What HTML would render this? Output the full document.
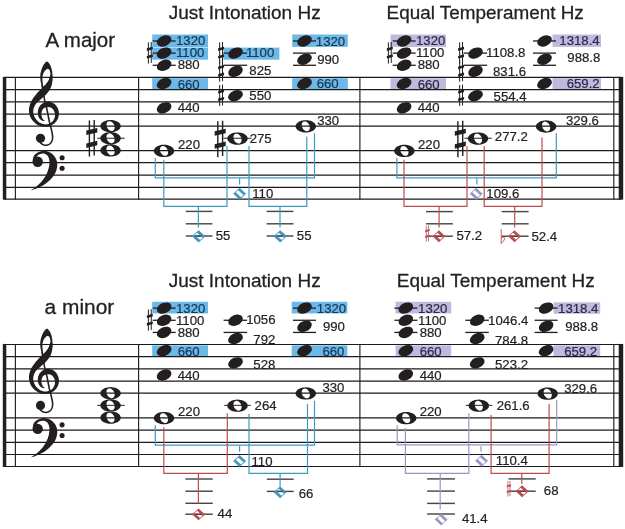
<!DOCTYPE html>
<html><head><meta charset="utf-8"><title>Just Intonation vs Equal Temperament</title>
<style>html,body{margin:0;padding:0;background:#fff;}svg{display:block;}text{font-family:"Liberation Sans",sans-serif;}</style></head>
<body>
<svg width="625" height="529" viewBox="0 0 625 529" font-family="'Liberation Sans', sans-serif" fill="#231f20" style="filter:blur(0.32px)">
<rect width="625" height="529" fill="#fff"/>
<rect x="152.2" y="34.5" width="55.8" height="12.85" fill="#6bb9e8"/>
<rect x="152.2" y="47.75" width="55.8" height="11.95" fill="#6bb9e8"/>
<rect x="152.2" y="78.2" width="55.8" height="11.5" fill="#6bb9e8"/>
<rect x="223.5" y="47.6" width="55.9" height="12.1" fill="#6bb9e8"/>
<rect x="292.2" y="34.5" width="55.6" height="12.4" fill="#6bb9e8"/>
<rect x="292.2" y="78.2" width="55.6" height="11.5" fill="#6bb9e8"/>
<rect x="390.5" y="34.5" width="55.5" height="12.4" fill="#bdb9df"/>
<rect x="390.5" y="78.2" width="55.5" height="11.5" fill="#bdb9df"/>
<rect x="552.5" y="34.5" width="48.5" height="12.4" fill="#bdb9df"/>
<rect x="552.5" y="78.2" width="48.5" height="11.5" fill="#bdb9df"/>
<path d="M4.5 77.46H621" stroke="#1d191a" stroke-width="1.2" fill="none"/>
<path d="M4.5 89.68H621" stroke="#1d191a" stroke-width="1.2" fill="none"/>
<path d="M4.5 101.8H621" stroke="#1d191a" stroke-width="1.2" fill="none"/>
<path d="M4.5 114.05H621" stroke="#1d191a" stroke-width="1.2" fill="none"/>
<path d="M4.5 126.2H621" stroke="#1d191a" stroke-width="1.2" fill="none"/>
<path d="M4.5 150.55H621" stroke="#1d191a" stroke-width="1.2" fill="none"/>
<path d="M4.5 162.7H621" stroke="#1d191a" stroke-width="1.2" fill="none"/>
<path d="M4.5 175.05H621" stroke="#1d191a" stroke-width="1.2" fill="none"/>
<path d="M4.5 187.3H621" stroke="#1d191a" stroke-width="1.2" fill="none"/>
<path d="M4.5 199.1H621" stroke="#1d191a" stroke-width="1.2" fill="none"/>
<rect x="2.8" y="76.91" width="3.5" height="122.74" fill="#231f20"/>
<path d="M15.4 76.96V199.6" stroke="#231f20" stroke-width="1.15" fill="none"/>
<path d="M138.6 76.96V199.6" stroke="#231f20" stroke-width="1.15" fill="none"/>
<path d="M359.9 76.96V199.6" stroke="#231f20" stroke-width="1.15" fill="none"/>
<path d="M613.8 76.96V199.6" stroke="#231f20" stroke-width="1.15" fill="none"/>
<rect x="618.7" y="76.91" width="4.5" height="122.74" fill="#231f20"/>
<path d="M44.76 120.76 L44.61 120.65 L44.41 120.5 L44.19 120.33 L43.94 120.14 L43.69 119.93 L43.46 119.71 L43.26 119.49 L43.08 119.26 L42.89 119.01 L42.69 118.74 L42.5 118.47 L42.33 118.2 L42.19 117.93 L42.07 117.65 L41.97 117.36 L41.87 117.02 L41.76 116.59 L41.64 116.11 L41.53 115.61 L41.44 115.1 L41.38 114.59 L41.35 114.09 L41.37 113.62 L41.44 113.15 L41.56 112.58 L41.71 111.94 L41.89 111.29 L42.1 110.65 L42.35 110.04 L42.63 109.51 L42.93 109.09 L43.24 108.76 L43.65 108.45 L44.19 108.11 L44.79 107.78 L45.44 107.5 L46.08 107.28 L46.7 107.12 L47.23 107.02 L47.67 106.99 L48.11 107.01 L48.67 107.06 L49.28 107.17 L49.93 107.34 L50.56 107.55 L51.17 107.81 L51.7 108.1 L52.13 108.39 L52.53 108.76 L52.95 109.24 L53.38 109.83 L53.78 110.5 L54.14 111.21 L54.45 111.93 L54.69 112.63 L54.87 113.28 L54.98 113.9 L55.03 114.58 L55.02 115.3 L54.95 116.04 L54.82 116.78 L54.65 117.51 L54.44 118.21 L54.19 118.85 L53.89 119.46 L53.53 120.06 L53.11 120.66 L52.64 121.23 L52.12 121.78 L51.57 122.27 L51 122.72 L50.41 123.1 L49.78 123.43 L49.1 123.72 L48.37 123.96 L47.62 124.15 L46.86 124.29 L46.09 124.37 L45.33 124.39 L44.59 124.35 L43.85 124.25 L43.08 124.08 L42.29 123.85 L41.51 123.57 L40.74 123.23 L40 122.84 L39.3 122.42 L38.65 121.96 L38.03 121.45 L37.41 120.87 L36.82 120.24 L36.25 119.56 L35.73 118.86 L35.25 118.14 L34.83 117.42 L34.48 116.71 L34.17 115.99 L33.9 115.24 L33.66 114.47 L33.47 113.68 L33.33 112.88 L33.24 112.09 L33.22 111.31 L33.25 110.56 L33.34 109.81 L33.5 109.04 L33.71 108.25 L33.97 107.45 L34.29 106.66 L34.65 105.89 L35.05 105.14 L35.48 104.44 L35.95 103.82 L36.5 103.21 L37.12 102.59 L37.8 101.97 L38.53 101.33 L39.29 100.67 L40.06 99.99 L40.79 99.31 L41.47 98.68 L42.15 98.08 L42.86 97.47 L43.58 96.85 L44.3 96.21 L45.02 95.54 L45.73 94.84 L46.4 94.13 L46.99 93.45 L47.55 92.78 L48.09 92.09 L48.62 91.39 L49.12 90.66 L49.61 89.9 L50.07 89.11 L50.49 88.31 L50.85 87.5 L51.16 86.69 L51.43 85.87 L51.67 85.05 L51.87 84.22 L52.04 83.39 L52.19 82.57 L52.32 81.73 L52.43 80.84 L52.49 79.92 L52.51 79 L52.5 78.11 L52.49 77.29 L52.47 76.56 L52.45 75.97 L52.44 75.53 L50.16 75.27 L50.05 75.73 L49.93 76.34 L49.79 77.05 L49.62 77.81 L49.43 78.6 L49.2 79.37 L48.95 80.07 L48.68 80.67 L48.35 81.23 L47.99 81.78 L47.58 82.33 L47.16 82.85 L46.71 83.37 L46.25 83.88 L45.78 84.39 L45.31 84.89 L44.85 85.37 L44.37 85.84 L43.87 86.32 L43.33 86.81 L42.78 87.33 L42.2 87.88 L41.6 88.47 L41 89.07 L40.43 89.66 L39.83 90.27 L39.2 90.91 L38.54 91.6 L37.86 92.32 L37.16 93.09 L36.47 93.88 L35.81 94.69 L35.2 95.47 L34.58 96.26 L33.93 97.11 L33.28 97.99 L32.64 98.93 L32.02 99.9 L31.43 100.92 L30.92 101.96 L30.48 102.99 L30.1 104.02 L29.77 105.07 L29.48 106.13 L29.25 107.21 L29.08 108.29 L28.98 109.37 L28.95 110.44 L29 111.5 L29.12 112.56 L29.3 113.6 L29.54 114.63 L29.85 115.64 L30.21 116.63 L30.64 117.58 L31.12 118.49 L31.68 119.37 L32.3 120.23 L32.99 121.05 L33.72 121.83 L34.49 122.56 L35.29 123.25 L36.12 123.88 L36.95 124.44 L37.82 124.94 L38.72 125.38 L39.65 125.77 L40.6 126.11 L41.56 126.39 L42.52 126.6 L43.47 126.76 L44.41 126.85 L45.34 126.86 L46.28 126.81 L47.22 126.7 L48.14 126.52 L49.05 126.29 L49.93 126.01 L50.78 125.68 L51.59 125.3 L52.38 124.86 L53.15 124.37 L53.89 123.82 L54.61 123.22 L55.29 122.56 L55.92 121.87 L56.5 121.13 L57.01 120.35 L57.46 119.53 L57.87 118.66 L58.22 117.74 L58.51 116.78 L58.74 115.8 L58.9 114.79 L58.96 113.76 L58.93 112.72 L58.8 111.69 L58.57 110.65 L58.26 109.6 L57.87 108.56 L57.4 107.55 L56.85 106.57 L56.21 105.65 L55.47 104.81 L54.63 104.06 L53.72 103.42 L52.74 102.86 L51.72 102.39 L50.66 102.02 L49.58 101.75 L48.47 101.61 L47.33 101.61 L46.2 101.78 L45.11 102.11 L44.09 102.56 L43.13 103.1 L42.23 103.7 L41.4 104.37 L40.64 105.07 L39.96 105.84 L39.36 106.69 L38.88 107.61 L38.51 108.53 L38.24 109.45 L38.03 110.36 L37.89 111.23 L37.8 112.06 L37.76 112.85 L37.78 113.67 L37.88 114.47 L38.05 115.22 L38.26 115.93 L38.51 116.57 L38.78 117.16 L39.05 117.69 L39.33 118.18 L39.64 118.65 L39.99 119.08 L40.36 119.45 L40.73 119.75 L41.1 120 L41.45 120.2 L41.79 120.37 L42.12 120.54 L42.48 120.7 L42.87 120.82 L43.25 120.9 L43.61 120.95 L43.94 120.98 L44.23 121 L44.46 121.02 L44.64 121.04Z" fill="#231f20" fill-rule="evenodd" transform="translate(0 0)"/>
<path d="M47.04 61.55 L47.43 61.67 L47.83 61.93 L48.23 62.29 L48.64 62.73 L49.04 63.24 L49.42 63.79 L49.78 64.35 L50.1 64.9 L50.39 65.47 L50.67 66.09 L50.92 66.75 L51.16 67.43 L51.37 68.13 L51.57 68.84 L51.74 69.53 L51.9 70.2 L52.03 70.85 L52.15 71.51 L52.24 72.16 L52.31 72.81 L52.36 73.45 L52.41 74.1 L52.43 74.75 L52.45 75.4 L52.46 76.05 L52.45 76.7 L52.42 77.36 L52.38 78.01 L52.33 78.66 L52.27 79.31 L52.19 79.96 L52.1 80.6 L52 81.24 L51.89 81.88 L51.77 82.52 L51.63 83.16 L51.48 83.79 L51.31 84.4 L51.12 85.01 L50.9 85.6 L50.66 86.21 L50.4 86.84 L50.12 87.48 L49.82 88.11 L49.5 88.68 L49.16 89.19 L48.79 89.61 L48.4 89.9 L47.96 90.06 L47.46 90.1 L46.92 90.06 L46.36 89.94 L45.81 89.77 L45.29 89.58 L44.81 89.38 L44.4 89.2 L44.06 89.03 L43.76 88.84 L43.51 88.63 L43.28 88.41 L43.07 88.16 L42.88 87.89 L42.69 87.61 L42.5 87.3 L42.31 86.97 L42.13 86.62 L41.97 86.25 L41.81 85.86 L41.66 85.45 L41.52 85.01 L41.38 84.57 L41.25 84.1 L41.12 83.61 L40.99 83.1 L40.87 82.57 L40.75 82.02 L40.64 81.46 L40.55 80.88 L40.47 80.3 L40.4 79.7 L40.35 79.09 L40.3 78.47 L40.26 77.83 L40.24 77.18 L40.23 76.51 L40.25 75.85 L40.28 75.17 L40.35 74.5 L40.44 73.81 L40.56 73.11 L40.71 72.39 L40.87 71.67 L41.06 70.96 L41.26 70.25 L41.47 69.56 L41.7 68.9 L41.95 68.25 L42.21 67.59 L42.5 66.94 L42.8 66.31 L43.11 65.7 L43.44 65.12 L43.77 64.59 L44.1 64.1 L44.44 63.63 L44.79 63.17 L45.16 62.72 L45.53 62.32 L45.9 61.98 L46.28 61.72 L46.66 61.57ZM47.7 68.8 L47.97 68.85 L48.24 68.95 L48.52 69.11 L48.79 69.31 L49.05 69.56 L49.3 69.86 L49.51 70.21 L49.7 70.6 L49.87 71.06 L50.02 71.59 L50.16 72.18 L50.28 72.81 L50.37 73.47 L50.42 74.13 L50.44 74.78 L50.4 75.4 L50.31 76 L50.17 76.61 L49.99 77.22 L49.77 77.83 L49.53 78.44 L49.27 79.04 L48.99 79.62 L48.7 80.2 L48.39 80.78 L48.05 81.36 L47.67 81.94 L47.29 82.51 L46.9 83.06 L46.51 83.58 L46.14 84.07 L45.8 84.5 L45.47 84.91 L45.15 85.33 L44.82 85.73 L44.51 86.09 L44.22 86.38 L43.95 86.6 L43.71 86.71 L43.5 86.7 L43.33 86.55 L43.21 86.27 L43.11 85.88 L43.03 85.41 L42.97 84.89 L42.92 84.33 L42.86 83.76 L42.8 83.2 L42.73 82.63 L42.65 82.01 L42.57 81.36 L42.49 80.68 L42.43 80 L42.39 79.31 L42.38 78.64 L42.4 78 L42.45 77.37 L42.53 76.73 L42.62 76.09 L42.74 75.46 L42.88 74.85 L43.04 74.26 L43.21 73.71 L43.4 73.2 L43.61 72.73 L43.85 72.29 L44.1 71.87 L44.38 71.49 L44.66 71.13 L44.94 70.8 L45.23 70.49 L45.5 70.2 L45.77 69.93 L46.05 69.66 L46.33 69.42 L46.61 69.2 L46.89 69.02 L47.16 68.89 L47.43 68.81Z" fill="#231f20" fill-rule="evenodd" transform="translate(0 0)"/>
<path d="M42 85.5 L42.07 85.82 L42.17 86.24 L42.28 86.75 L42.41 87.31 L42.54 87.9 L42.67 88.48 L42.79 89.02 L42.9 89.5 L43 89.9 L43.08 90.23 L43.17 90.52 L43.25 90.81 L43.33 91.13 L43.42 91.49 L43.5 91.94 L43.6 92.5 L43.69 93.17 L43.78 93.92 L43.86 94.74 L43.95 95.61 L44.05 96.54 L44.17 97.5 L44.32 98.49 L44.5 99.5 L44.72 100.52 L44.97 101.58 L45.26 102.66 L45.56 103.77 L45.87 104.93 L46.19 106.14 L46.5 107.39 L46.8 108.7 L47.1 110.11 L47.4 111.62 L47.7 113.21 L48.01 114.83 L48.31 116.45 L48.61 118.03 L48.91 119.52 L49.2 120.9 L49.49 122.17 L49.79 123.37 L50.08 124.51 L50.38 125.59 L50.66 126.64 L50.93 127.65 L51.17 128.63 L51.4 129.6 L51.61 130.55 L51.81 131.46 L52.01 132.35 L52.18 133.21 L52.33 134.03 L52.46 134.82 L52.55 135.58 L52.6 136.3 L52.61 136.99 L52.59 137.64 L52.54 138.25 L52.46 138.83 L52.36 139.38 L52.23 139.91 L52.07 140.42 L51.9 140.9 L51.71 141.36 L51.49 141.8 L51.25 142.21 L50.99 142.6 L50.7 142.96 L50.39 143.3 L50.06 143.61 L49.7 143.9 L49.31 144.17 L48.87 144.42 L48.41 144.64 L47.93 144.84 L47.43 145.01 L46.94 145.15 L46.46 145.25 L46 145.3 L45.55 145.3 L45.11 145.26 L44.66 145.17 L44.22 145.05 L43.79 144.9 L43.37 144.74 L42.98 144.57 L42.6 144.4 L42.24 144.21 L41.87 143.97 L41.52 143.71 L41.19 143.44 L40.88 143.18 L40.61 142.94 L40.38 142.75 L40.2 142.6" fill="none" stroke="#231f20" stroke-width="1.6" stroke-linecap="round" transform="translate(0 0)"/>
<circle cx="40.5" cy="138.3" r="4.6" fill="#231f20"/>
<path d="M32.7 160.54 L32.77 160.17 L32.85 159.66 L32.93 159.06 L33.04 158.4 L33.19 157.7 L33.38 157.02 L33.62 156.38 L33.92 155.81 L34.3 155.3 L34.73 154.81 L35.21 154.32 L35.74 153.86 L36.31 153.42 L36.91 153.02 L37.53 152.65 L38.18 152.32 L38.85 152.02 L39.57 151.73 L40.32 151.48 L41.1 151.26 L41.9 151.08 L42.71 150.96 L43.52 150.9 L44.32 150.9 L45.14 150.97 L45.99 151.1 L46.85 151.29 L47.72 151.53 L48.57 151.82 L49.41 152.16 L50.2 152.55 L50.94 152.98 L51.64 153.47 L52.33 154.03 L52.99 154.64 L53.61 155.29 L54.2 155.99 L54.75 156.71 L55.23 157.44 L55.66 158.18 L56.04 158.93 L56.36 159.71 L56.64 160.52 L56.86 161.35 L57.04 162.2 L57.17 163.05 L57.24 163.92 L57.27 164.79 L57.24 165.69 L57.15 166.61 L57.01 167.56 L56.82 168.52 L56.59 169.47 L56.31 170.4 L56 171.3 L55.66 172.17 L55.29 172.99 L54.87 173.78 L54.41 174.56 L53.91 175.31 L53.38 176.05 L52.81 176.77 L52.22 177.5 L51.6 178.22 L50.94 178.94 L50.24 179.67 L49.49 180.4 L48.72 181.11 L47.93 181.81 L47.14 182.47 L46.34 183.11 L45.55 183.7 L44.77 184.24 L44 184.74 L43.23 185.2 L42.44 185.64 L41.65 186.06 L40.83 186.47 L39.99 186.88 L39.12 187.29 L38.16 187.72 L37.1 188.18 L35.97 188.63 L34.85 189.07 L33.77 189.49 L32.8 189.86 L31.98 190.17 L31.37 190.41 L31.56 189.84 L32.08 189.47 L32.78 188.98 L33.62 188.39 L34.54 187.74 L35.51 187.04 L36.47 186.32 L37.37 185.61 L38.18 184.93 L38.91 184.26 L39.61 183.58 L40.29 182.9 L40.95 182.2 L41.59 181.48 L42.21 180.76 L42.8 180.01 L43.38 179.26 L43.93 178.47 L44.47 177.66 L44.98 176.84 L45.47 175.99 L45.94 175.15 L46.38 174.3 L46.78 173.46 L47.16 172.64 L47.49 171.82 L47.8 171 L48.07 170.18 L48.32 169.37 L48.54 168.56 L48.73 167.76 L48.9 166.98 L49.05 166.21 L49.17 165.46 L49.27 164.71 L49.35 163.98 L49.4 163.25 L49.43 162.54 L49.42 161.85 L49.39 161.19 L49.33 160.54 L49.24 159.91 L49.11 159.29 L48.96 158.69 L48.78 158.11 L48.58 157.55 L48.35 157.03 L48.09 156.54 L47.82 156.1 L47.51 155.7 L47.18 155.33 L46.81 154.99 L46.42 154.69 L46.02 154.43 L45.61 154.19 L45.2 153.99 L44.79 153.83 L44.39 153.71 L43.98 153.62 L43.57 153.58 L43.15 153.57 L42.72 153.59 L42.31 153.62 L41.89 153.67 L41.49 153.74 L41.08 153.81 L40.67 153.9 L40.26 154.02 L39.85 154.15 L39.45 154.3 L39.07 154.47 L38.71 154.66 L38.37 154.87 L38.04 155.12 L37.73 155.43 L37.42 155.77 L37.13 156.12 L36.87 156.47 L36.64 156.78 L36.44 157.04 L36.29 157.23Z" fill="#231f20" transform="translate(0 0)"/>
<circle cx="37.71" cy="161.77" r="5.2" fill="#231f20"/>
<circle cx="62.09" cy="157.71" r="2.55" fill="#231f20"/>
<circle cx="62.09" cy="168.29" r="2.55" fill="#231f20"/>
<path d="M97.2 138.28H124.7" stroke="#4a4646" stroke-width="1.2" fill="none"/>
<path d="M120.75 126.11 L120.62 127.07 L120.25 128.01 L119.64 128.9 L118.8 129.72 L117.76 130.46 L116.55 131.09 L115.18 131.59 L113.7 131.96 L112.15 132.18 L110.55 132.26 L108.95 132.18 L107.4 131.96 L105.92 131.59 L104.55 131.09 L103.34 130.46 L102.3 129.72 L101.46 128.9 L100.85 128.01 L100.48 127.07 L100.35 126.11 L100.48 125.15 L100.85 124.21 L101.46 123.32 L102.3 122.5 L103.34 121.76 L104.55 121.13 L105.92 120.63 L107.4 120.26 L108.95 120.04 L110.55 119.96 L112.15 120.04 L113.7 120.26 L115.18 120.63 L116.55 121.13 L117.76 121.76 L118.8 122.5 L119.64 123.32 L120.25 124.21 L120.62 125.15ZM113.82 124.37 L114.16 125.11 L114.41 125.88 L114.57 126.65 L114.63 127.4 L114.59 128.13 L114.45 128.8 L114.21 129.41 L113.88 129.94 L113.47 130.37 L112.99 130.7 L112.45 130.92 L111.86 131.01 L111.24 130.99 L110.6 130.85 L109.97 130.58 L109.34 130.21 L108.75 129.74 L108.2 129.18 L107.71 128.54 L107.28 127.85 L106.94 127.11 L106.69 126.34 L106.53 125.57 L106.47 124.82 L106.51 124.09 L106.65 123.42 L106.89 122.81 L107.22 122.28 L107.63 121.85 L108.11 121.52 L108.65 121.3 L109.24 121.21 L109.86 121.23 L110.5 121.37 L111.13 121.64 L111.76 122.01 L112.35 122.48 L112.9 123.04 L113.39 123.68Z" fill="#231f20" fill-rule="evenodd"/>
<path d="M120.75 138.28 L120.62 139.24 L120.25 140.18 L119.64 141.07 L118.8 141.89 L117.76 142.62 L116.55 143.25 L115.18 143.75 L113.7 144.12 L112.15 144.35 L110.55 144.43 L108.95 144.35 L107.4 144.12 L105.92 143.75 L104.55 143.25 L103.34 142.62 L102.3 141.89 L101.46 141.07 L100.85 140.18 L100.48 139.24 L100.35 138.28 L100.48 137.31 L100.85 136.37 L101.46 135.48 L102.3 134.66 L103.34 133.93 L104.55 133.3 L105.92 132.8 L107.4 132.43 L108.95 132.2 L110.55 132.12 L112.15 132.2 L113.7 132.43 L115.18 132.8 L116.55 133.3 L117.76 133.93 L118.8 134.66 L119.64 135.48 L120.25 136.37 L120.62 137.31ZM113.82 136.54 L114.16 137.28 L114.41 138.04 L114.57 138.81 L114.63 139.57 L114.59 140.29 L114.45 140.97 L114.21 141.58 L113.88 142.1 L113.47 142.54 L112.99 142.87 L112.45 143.08 L111.86 143.18 L111.24 143.15 L110.6 143.01 L109.97 142.75 L109.34 142.38 L108.75 141.91 L108.2 141.35 L107.71 140.71 L107.28 140.01 L106.94 139.27 L106.69 138.51 L106.53 137.74 L106.47 136.98 L106.51 136.26 L106.65 135.58 L106.89 134.97 L107.22 134.45 L107.63 134.01 L108.11 133.68 L108.65 133.47 L109.24 133.37 L109.86 133.4 L110.5 133.54 L111.13 133.8 L111.76 134.17 L112.35 134.64 L112.9 135.2 L113.39 135.84Z" fill="#231f20" fill-rule="evenodd"/>
<path d="M120.75 150.44 L120.62 151.4 L120.25 152.34 L119.64 153.23 L118.8 154.05 L117.76 154.79 L116.55 155.42 L115.18 155.92 L113.7 156.29 L112.15 156.51 L110.55 156.59 L108.95 156.51 L107.4 156.29 L105.92 155.92 L104.55 155.42 L103.34 154.79 L102.3 154.05 L101.46 153.23 L100.85 152.34 L100.48 151.4 L100.35 150.44 L100.48 149.48 L100.85 148.54 L101.46 147.65 L102.3 146.83 L103.34 146.09 L104.55 145.46 L105.92 144.96 L107.4 144.59 L108.95 144.37 L110.55 144.29 L112.15 144.37 L113.7 144.59 L115.18 144.96 L116.55 145.46 L117.76 146.09 L118.8 146.83 L119.64 147.65 L120.25 148.54 L120.62 149.48ZM113.82 148.7 L114.16 149.44 L114.41 150.21 L114.57 150.98 L114.63 151.73 L114.59 152.46 L114.45 153.13 L114.21 153.74 L113.88 154.27 L113.47 154.7 L112.99 155.03 L112.45 155.25 L111.86 155.34 L111.24 155.32 L110.6 155.18 L109.97 154.91 L109.34 154.54 L108.75 154.07 L108.2 153.51 L107.71 152.87 L107.28 152.18 L106.94 151.44 L106.69 150.67 L106.53 149.9 L106.47 149.15 L106.51 148.42 L106.65 147.75 L106.89 147.14 L107.22 146.61 L107.63 146.18 L108.11 145.85 L108.65 145.63 L109.24 145.54 L109.86 145.56 L110.5 145.7 L111.13 145.97 L111.76 146.34 L112.35 146.81 L112.9 147.37 L113.39 148.01Z" fill="#231f20" fill-rule="evenodd"/>
<path d="M89.4 120.57V156.47 M94.2 119.97V155.38" stroke="#231f20" stroke-width="1.4" fill="none"/>
<path d="M86.3 130.62 L97.3 127.93 L97.3 132.43 L86.3 135.12Z" fill="#231f20"/>
<path d="M86.3 143.52 L97.3 140.82 L97.3 145.32 L86.3 148.02Z" fill="#231f20"/>
<path d="M152.7 40.96H175.7" stroke="#231f20" stroke-width="1.3" fill="none"/>
<path d="M152.7 53.12H175.7" stroke="#231f20" stroke-width="1.3" fill="none"/>
<path d="M152.7 65.28H175.7" stroke="#231f20" stroke-width="1.3" fill="none"/>
<ellipse cx="164.1" cy="40.96" rx="7.7" ry="5.2" fill="#231f20" transform="rotate(-24 164.1 40.96)"/>
<ellipse cx="164.1" cy="53.12" rx="7.7" ry="5.2" fill="#231f20" transform="rotate(-24 164.1 53.12)"/>
<ellipse cx="164.1" cy="65.28" rx="7.7" ry="5.2" fill="#231f20" transform="rotate(-24 164.1 65.28)"/>
<ellipse cx="164.1" cy="83.53" rx="7.7" ry="5.2" fill="#231f20" transform="rotate(-24 164.1 83.53)"/>
<ellipse cx="164.1" cy="107.86" rx="7.7" ry="5.2" fill="#231f20" transform="rotate(-24 164.1 107.86)"/>
<path d="M148.38 42.35V63.54 M151.22 42V62.89" stroke="#231f20" stroke-width="1" fill="none"/>
<path d="M146.85 48.31 L152.75 46.72 L152.75 49.32 L146.85 50.91Z" fill="#231f20"/>
<path d="M146.85 55.92 L152.75 54.33 L152.75 56.93 L146.85 58.52Z" fill="#231f20"/>
<path d="M223.6 53.12H247.1" stroke="#231f20" stroke-width="1.3" fill="none"/>
<path d="M223.6 65.28H247.1" stroke="#231f20" stroke-width="1.3" fill="none"/>
<ellipse cx="235.5" cy="53.12" rx="7.7" ry="5.2" fill="#231f20" transform="rotate(-24 235.5 53.12)"/>
<ellipse cx="235.5" cy="71.37" rx="7.7" ry="5.2" fill="#231f20" transform="rotate(-24 235.5 71.37)"/>
<ellipse cx="235.5" cy="95.7" rx="7.7" ry="5.2" fill="#231f20" transform="rotate(-24 235.5 95.7)"/>
<path d="M219.68 42.35V63.54 M222.52 42V62.89" stroke="#231f20" stroke-width="1" fill="none"/>
<path d="M218.15 48.31 L224.05 46.72 L224.05 49.32 L218.15 50.91Z" fill="#231f20"/>
<path d="M218.15 55.92 L224.05 54.33 L224.05 56.93 L218.15 58.52Z" fill="#231f20"/>
<path d="M219.68 60.6V81.78 M222.52 60.25V81.13" stroke="#231f20" stroke-width="1" fill="none"/>
<path d="M218.15 66.56 L224.05 64.97 L224.05 67.56 L218.15 69.16Z" fill="#231f20"/>
<path d="M218.15 74.17 L224.05 72.58 L224.05 75.17 L218.15 76.77Z" fill="#231f20"/>
<path d="M219.68 84.93V106.11 M222.52 84.58V105.46" stroke="#231f20" stroke-width="1" fill="none"/>
<path d="M218.15 90.89 L224.05 89.3 L224.05 91.89 L218.15 93.49Z" fill="#231f20"/>
<path d="M218.15 98.5 L224.05 96.91 L224.05 99.5 L218.15 101.1Z" fill="#231f20"/>
<path d="M293 40.96H316" stroke="#231f20" stroke-width="1.3" fill="none"/>
<path d="M293 53.12H316" stroke="#231f20" stroke-width="1.3" fill="none"/>
<path d="M293 65.28H316" stroke="#231f20" stroke-width="1.3" fill="none"/>
<ellipse cx="304.5" cy="40.96" rx="7.7" ry="5.2" fill="#231f20" transform="rotate(-24 304.5 40.96)"/>
<ellipse cx="304.5" cy="59.2" rx="7.7" ry="5.2" fill="#231f20" transform="rotate(-24 304.5 59.2)"/>
<ellipse cx="304.5" cy="83.53" rx="7.7" ry="5.2" fill="#231f20" transform="rotate(-24 304.5 83.53)"/>
<path d="M392.7 40.96H415.7" stroke="#231f20" stroke-width="1.3" fill="none"/>
<path d="M392.7 53.12H415.7" stroke="#231f20" stroke-width="1.3" fill="none"/>
<path d="M392.7 65.28H415.7" stroke="#231f20" stroke-width="1.3" fill="none"/>
<ellipse cx="404.1" cy="40.96" rx="7.7" ry="5.2" fill="#231f20" transform="rotate(-24 404.1 40.96)"/>
<ellipse cx="404.1" cy="53.12" rx="7.7" ry="5.2" fill="#231f20" transform="rotate(-24 404.1 53.12)"/>
<ellipse cx="404.1" cy="65.28" rx="7.7" ry="5.2" fill="#231f20" transform="rotate(-24 404.1 65.28)"/>
<ellipse cx="404.1" cy="83.53" rx="7.7" ry="5.2" fill="#231f20" transform="rotate(-24 404.1 83.53)"/>
<ellipse cx="404.1" cy="107.86" rx="7.7" ry="5.2" fill="#231f20" transform="rotate(-24 404.1 107.86)"/>
<path d="M388.38 42.35V63.54 M391.22 42V62.89" stroke="#231f20" stroke-width="1" fill="none"/>
<path d="M386.85 48.31 L392.75 46.72 L392.75 49.32 L386.85 50.91Z" fill="#231f20"/>
<path d="M386.85 55.92 L392.75 54.33 L392.75 56.93 L386.85 58.52Z" fill="#231f20"/>
<path d="M463.6 53.12H487.1" stroke="#231f20" stroke-width="1.3" fill="none"/>
<path d="M463.6 65.28H487.1" stroke="#231f20" stroke-width="1.3" fill="none"/>
<ellipse cx="475.5" cy="53.12" rx="7.7" ry="5.2" fill="#231f20" transform="rotate(-24 475.5 53.12)"/>
<ellipse cx="475.5" cy="71.37" rx="7.7" ry="5.2" fill="#231f20" transform="rotate(-24 475.5 71.37)"/>
<ellipse cx="475.5" cy="95.7" rx="7.7" ry="5.2" fill="#231f20" transform="rotate(-24 475.5 95.7)"/>
<path d="M459.68 42.35V63.54 M462.52 42V62.89" stroke="#231f20" stroke-width="1" fill="none"/>
<path d="M458.15 48.31 L464.05 46.72 L464.05 49.32 L458.15 50.91Z" fill="#231f20"/>
<path d="M458.15 55.92 L464.05 54.33 L464.05 56.93 L458.15 58.52Z" fill="#231f20"/>
<path d="M459.68 60.6V81.78 M462.52 60.25V81.13" stroke="#231f20" stroke-width="1" fill="none"/>
<path d="M458.15 66.56 L464.05 64.97 L464.05 67.56 L458.15 69.16Z" fill="#231f20"/>
<path d="M458.15 74.17 L464.05 72.58 L464.05 75.17 L458.15 76.77Z" fill="#231f20"/>
<path d="M459.68 84.93V106.11 M462.52 84.58V105.46" stroke="#231f20" stroke-width="1" fill="none"/>
<path d="M458.15 90.89 L464.05 89.3 L464.05 91.89 L458.15 93.49Z" fill="#231f20"/>
<path d="M458.15 98.5 L464.05 96.91 L464.05 99.5 L458.15 101.1Z" fill="#231f20"/>
<path d="M533 40.96H556" stroke="#231f20" stroke-width="1.3" fill="none"/>
<path d="M533 53.12H556" stroke="#231f20" stroke-width="1.3" fill="none"/>
<path d="M533 65.28H556" stroke="#231f20" stroke-width="1.3" fill="none"/>
<ellipse cx="544.5" cy="40.96" rx="7.7" ry="5.2" fill="#231f20" transform="rotate(-24 544.5 40.96)"/>
<ellipse cx="544.5" cy="59.2" rx="7.7" ry="5.2" fill="#231f20" transform="rotate(-24 544.5 59.2)"/>
<ellipse cx="544.5" cy="83.53" rx="7.7" ry="5.2" fill="#231f20" transform="rotate(-24 544.5 83.53)"/>
<path d="M174.2 150.94 L174.07 151.9 L173.7 152.84 L173.09 153.73 L172.25 154.55 L171.21 155.29 L170 155.92 L168.63 156.42 L167.15 156.79 L165.6 157.01 L164 157.09 L162.4 157.01 L160.85 156.79 L159.37 156.42 L158 155.92 L156.79 155.29 L155.75 154.55 L154.91 153.73 L154.3 152.84 L153.93 151.9 L153.8 150.94 L153.93 149.98 L154.3 149.04 L154.91 148.15 L155.75 147.33 L156.79 146.59 L158 145.96 L159.37 145.46 L160.85 145.09 L162.4 144.87 L164 144.79 L165.6 144.87 L167.15 145.09 L168.63 145.46 L170 145.96 L171.21 146.59 L172.25 147.33 L173.09 148.15 L173.7 149.04 L174.07 149.98ZM167.27 149.2 L167.61 149.94 L167.86 150.71 L168.02 151.48 L168.08 152.23 L168.04 152.96 L167.9 153.63 L167.66 154.24 L167.33 154.77 L166.92 155.2 L166.44 155.53 L165.9 155.75 L165.31 155.84 L164.69 155.82 L164.05 155.68 L163.42 155.41 L162.79 155.04 L162.2 154.57 L161.65 154.01 L161.16 153.37 L160.73 152.68 L160.39 151.94 L160.14 151.17 L159.98 150.4 L159.92 149.65 L159.96 148.92 L160.1 148.25 L160.34 147.64 L160.67 147.11 L161.08 146.68 L161.56 146.35 L162.1 146.13 L162.69 146.04 L163.31 146.06 L163.95 146.2 L164.58 146.47 L165.21 146.84 L165.8 147.31 L166.35 147.87 L166.84 148.51Z" fill="#231f20" fill-rule="evenodd"/>
<path d="M223.4 138.28H251.6" stroke="#4a4646" stroke-width="1.2" fill="none"/>
<path d="M247.7 138.58 L247.57 139.54 L247.2 140.48 L246.59 141.37 L245.75 142.19 L244.71 142.92 L243.5 143.55 L242.13 144.05 L240.65 144.42 L239.1 144.65 L237.5 144.73 L235.9 144.65 L234.35 144.42 L232.87 144.05 L231.5 143.55 L230.29 142.92 L229.25 142.19 L228.41 141.37 L227.8 140.48 L227.43 139.54 L227.3 138.58 L227.43 137.61 L227.8 136.67 L228.41 135.78 L229.25 134.96 L230.29 134.23 L231.5 133.6 L232.87 133.1 L234.35 132.73 L235.9 132.5 L237.5 132.43 L239.1 132.5 L240.65 132.73 L242.13 133.1 L243.5 133.6 L244.71 134.23 L245.75 134.96 L246.59 135.78 L247.2 136.67 L247.57 137.61ZM240.77 136.84 L241.11 137.58 L241.36 138.34 L241.52 139.11 L241.58 139.87 L241.54 140.59 L241.4 141.27 L241.16 141.88 L240.83 142.4 L240.42 142.84 L239.94 143.17 L239.4 143.38 L238.81 143.48 L238.19 143.45 L237.55 143.31 L236.92 143.05 L236.29 142.68 L235.7 142.21 L235.15 141.65 L234.66 141.01 L234.23 140.31 L233.89 139.57 L233.64 138.81 L233.48 138.04 L233.42 137.28 L233.46 136.56 L233.6 135.88 L233.84 135.27 L234.17 134.75 L234.58 134.31 L235.06 133.98 L235.6 133.77 L236.19 133.67 L236.81 133.7 L237.45 133.84 L238.08 134.1 L238.71 134.47 L239.3 134.94 L239.85 135.5 L240.34 136.14Z" fill="#231f20" fill-rule="evenodd"/>
<path d="M217.8 121.28V157.18 M222.6 120.68V156.08" stroke="#231f20" stroke-width="1.4" fill="none"/>
<path d="M214.7 131.33 L225.7 128.63 L225.7 133.13 L214.7 135.83Z" fill="#231f20"/>
<path d="M214.7 144.22 L225.7 141.53 L225.7 146.03 L214.7 148.72Z" fill="#231f20"/>
<path d="M316 126.31 L315.87 127.27 L315.5 128.21 L314.89 129.1 L314.05 129.92 L313.01 130.66 L311.8 131.29 L310.43 131.79 L308.95 132.16 L307.4 132.38 L305.8 132.46 L304.2 132.38 L302.65 132.16 L301.17 131.79 L299.8 131.29 L298.59 130.66 L297.55 129.92 L296.71 129.1 L296.1 128.21 L295.73 127.27 L295.6 126.31 L295.73 125.35 L296.1 124.41 L296.71 123.52 L297.55 122.7 L298.59 121.96 L299.8 121.33 L301.17 120.83 L302.65 120.46 L304.2 120.24 L305.8 120.16 L307.4 120.24 L308.95 120.46 L310.43 120.83 L311.8 121.33 L313.01 121.96 L314.05 122.7 L314.89 123.52 L315.5 124.41 L315.87 125.35ZM309.07 124.57 L309.41 125.31 L309.66 126.08 L309.82 126.85 L309.88 127.6 L309.84 128.33 L309.7 129 L309.46 129.61 L309.13 130.14 L308.72 130.57 L308.24 130.9 L307.7 131.12 L307.11 131.21 L306.49 131.19 L305.85 131.05 L305.22 130.78 L304.59 130.41 L304 129.94 L303.45 129.38 L302.96 128.74 L302.53 128.05 L302.19 127.31 L301.94 126.54 L301.78 125.77 L301.72 125.02 L301.76 124.29 L301.9 123.62 L302.14 123.01 L302.47 122.48 L302.88 122.05 L303.36 121.72 L303.9 121.5 L304.49 121.41 L305.11 121.43 L305.75 121.57 L306.38 121.84 L307.01 122.21 L307.6 122.68 L308.15 123.24 L308.64 123.88Z" fill="#231f20" fill-rule="evenodd"/>
<path d="M414.6 150.94 L414.47 151.9 L414.1 152.84 L413.49 153.73 L412.65 154.55 L411.61 155.29 L410.4 155.92 L409.03 156.42 L407.55 156.79 L406 157.01 L404.4 157.09 L402.8 157.01 L401.25 156.79 L399.77 156.42 L398.4 155.92 L397.19 155.29 L396.15 154.55 L395.31 153.73 L394.7 152.84 L394.33 151.9 L394.2 150.94 L394.33 149.98 L394.7 149.04 L395.31 148.15 L396.15 147.33 L397.19 146.59 L398.4 145.96 L399.77 145.46 L401.25 145.09 L402.8 144.87 L404.4 144.79 L406 144.87 L407.55 145.09 L409.03 145.46 L410.4 145.96 L411.61 146.59 L412.65 147.33 L413.49 148.15 L414.1 149.04 L414.47 149.98ZM407.67 149.2 L408.01 149.94 L408.26 150.71 L408.42 151.48 L408.48 152.23 L408.44 152.96 L408.3 153.63 L408.06 154.24 L407.73 154.77 L407.32 155.2 L406.84 155.53 L406.3 155.75 L405.71 155.84 L405.09 155.82 L404.45 155.68 L403.82 155.41 L403.19 155.04 L402.6 154.57 L402.05 154.01 L401.56 153.37 L401.13 152.68 L400.79 151.94 L400.54 151.17 L400.38 150.4 L400.32 149.65 L400.36 148.92 L400.5 148.25 L400.74 147.64 L401.07 147.11 L401.48 146.68 L401.96 146.35 L402.5 146.13 L403.09 146.04 L403.71 146.06 L404.35 146.2 L404.98 146.47 L405.61 146.84 L406.2 147.31 L406.75 147.87 L407.24 148.51Z" fill="#231f20" fill-rule="evenodd"/>
<path d="M464.4 138.28H491.8" stroke="#4a4646" stroke-width="1.2" fill="none"/>
<path d="M488.2 138.58 L488.07 139.54 L487.7 140.48 L487.09 141.37 L486.25 142.19 L485.21 142.92 L484 143.55 L482.63 144.05 L481.15 144.42 L479.6 144.65 L478 144.73 L476.4 144.65 L474.85 144.42 L473.37 144.05 L472 143.55 L470.79 142.92 L469.75 142.19 L468.91 141.37 L468.3 140.48 L467.93 139.54 L467.8 138.58 L467.93 137.61 L468.3 136.67 L468.91 135.78 L469.75 134.96 L470.79 134.23 L472 133.6 L473.37 133.1 L474.85 132.73 L476.4 132.5 L478 132.43 L479.6 132.5 L481.15 132.73 L482.63 133.1 L484 133.6 L485.21 134.23 L486.25 134.96 L487.09 135.78 L487.7 136.67 L488.07 137.61ZM481.27 136.84 L481.61 137.58 L481.86 138.34 L482.02 139.11 L482.08 139.87 L482.04 140.59 L481.9 141.27 L481.66 141.88 L481.33 142.4 L480.92 142.84 L480.44 143.17 L479.9 143.38 L479.31 143.48 L478.69 143.45 L478.05 143.31 L477.42 143.05 L476.79 142.68 L476.2 142.21 L475.65 141.65 L475.16 141.01 L474.73 140.31 L474.39 139.57 L474.14 138.81 L473.98 138.04 L473.92 137.28 L473.96 136.56 L474.1 135.88 L474.34 135.27 L474.67 134.75 L475.08 134.31 L475.56 133.98 L476.1 133.77 L476.69 133.67 L477.31 133.7 L477.95 133.84 L478.58 134.1 L479.21 134.47 L479.8 134.94 L480.35 135.5 L480.84 136.14Z" fill="#231f20" fill-rule="evenodd"/>
<path d="M457.9 121.28V157.18 M462.7 120.68V156.08" stroke="#231f20" stroke-width="1.4" fill="none"/>
<path d="M454.8 131.33 L465.8 128.63 L465.8 133.13 L454.8 135.83Z" fill="#231f20"/>
<path d="M454.8 144.22 L465.8 141.53 L465.8 146.03 L454.8 148.72Z" fill="#231f20"/>
<path d="M556.3 126.51 L556.17 127.47 L555.8 128.41 L555.19 129.3 L554.35 130.12 L553.31 130.86 L552.1 131.49 L550.73 131.99 L549.25 132.36 L547.7 132.58 L546.1 132.66 L544.5 132.58 L542.95 132.36 L541.47 131.99 L540.1 131.49 L538.89 130.86 L537.85 130.12 L537.01 129.3 L536.4 128.41 L536.03 127.47 L535.9 126.51 L536.03 125.55 L536.4 124.61 L537.01 123.72 L537.85 122.9 L538.89 122.16 L540.1 121.53 L541.47 121.03 L542.95 120.66 L544.5 120.44 L546.1 120.36 L547.7 120.44 L549.25 120.66 L550.73 121.03 L552.1 121.53 L553.31 122.16 L554.35 122.9 L555.19 123.72 L555.8 124.61 L556.17 125.55ZM549.37 124.77 L549.71 125.51 L549.96 126.28 L550.12 127.05 L550.18 127.8 L550.14 128.53 L550 129.2 L549.76 129.81 L549.43 130.34 L549.02 130.77 L548.54 131.1 L548 131.32 L547.41 131.41 L546.79 131.39 L546.15 131.25 L545.52 130.98 L544.89 130.61 L544.3 130.14 L543.75 129.58 L543.26 128.94 L542.83 128.25 L542.49 127.51 L542.24 126.74 L542.08 125.97 L542.02 125.22 L542.06 124.49 L542.2 123.82 L542.44 123.21 L542.77 122.68 L543.18 122.25 L543.66 121.92 L544.2 121.7 L544.79 121.61 L545.41 121.63 L546.05 121.77 L546.68 122.04 L547.31 122.41 L547.9 122.88 L548.45 123.44 L548.94 124.08Z" fill="#231f20" fill-rule="evenodd"/>
<rect x="152.2" y="301.75" width="55.8" height="11.7" fill="#6bb9e8"/>
<rect x="152.2" y="345.35" width="55.8" height="11.5" fill="#6bb9e8"/>
<rect x="291.7" y="301.75" width="55.6" height="11.7" fill="#6bb9e8"/>
<rect x="291.7" y="345.35" width="55.6" height="11.5" fill="#6bb9e8"/>
<rect x="395.6" y="301.75" width="55.6" height="11.7" fill="#bdb9df"/>
<rect x="395.6" y="345.35" width="55.6" height="11.5" fill="#bdb9df"/>
<rect x="553.6" y="302.35" width="46.6" height="11.4" fill="#bdb9df"/>
<rect x="553.6" y="345.35" width="46.6" height="11.5" fill="#bdb9df"/>
<path d="M4.5 344.5H621" stroke="#1d191a" stroke-width="1.2" fill="none"/>
<path d="M4.5 356.7H621" stroke="#1d191a" stroke-width="1.2" fill="none"/>
<path d="M4.5 368.85H621" stroke="#1d191a" stroke-width="1.2" fill="none"/>
<path d="M4.5 381.1H621" stroke="#1d191a" stroke-width="1.2" fill="none"/>
<path d="M4.5 393.2H621" stroke="#1d191a" stroke-width="1.2" fill="none"/>
<path d="M4.5 417.85H621" stroke="#1d191a" stroke-width="1.2" fill="none"/>
<path d="M4.5 430.1H621" stroke="#1d191a" stroke-width="1.2" fill="none"/>
<path d="M4.5 442.3H621" stroke="#1d191a" stroke-width="1.2" fill="none"/>
<path d="M4.5 454.5H621" stroke="#1d191a" stroke-width="1.2" fill="none"/>
<path d="M4.5 466.5H621" stroke="#1d191a" stroke-width="1.2" fill="none"/>
<rect x="2.8" y="343.95" width="3.5" height="123.1" fill="#231f20"/>
<path d="M15.4 344V467" stroke="#231f20" stroke-width="1.15" fill="none"/>
<path d="M138.6 344V467" stroke="#231f20" stroke-width="1.15" fill="none"/>
<path d="M359.9 344V467" stroke="#231f20" stroke-width="1.15" fill="none"/>
<path d="M613.8 344V467" stroke="#231f20" stroke-width="1.15" fill="none"/>
<rect x="618.7" y="343.95" width="4.5" height="123.1" fill="#231f20"/>
<path d="M44.76 120.76 L44.61 120.65 L44.41 120.5 L44.19 120.33 L43.94 120.14 L43.69 119.93 L43.46 119.71 L43.26 119.49 L43.08 119.26 L42.89 119.01 L42.69 118.74 L42.5 118.47 L42.33 118.2 L42.19 117.93 L42.07 117.65 L41.97 117.36 L41.87 117.02 L41.76 116.59 L41.64 116.11 L41.53 115.61 L41.44 115.1 L41.38 114.59 L41.35 114.09 L41.37 113.62 L41.44 113.15 L41.56 112.58 L41.71 111.94 L41.89 111.29 L42.1 110.65 L42.35 110.04 L42.63 109.51 L42.93 109.09 L43.24 108.76 L43.65 108.45 L44.19 108.11 L44.79 107.78 L45.44 107.5 L46.08 107.28 L46.7 107.12 L47.23 107.02 L47.67 106.99 L48.11 107.01 L48.67 107.06 L49.28 107.17 L49.93 107.34 L50.56 107.55 L51.17 107.81 L51.7 108.1 L52.13 108.39 L52.53 108.76 L52.95 109.24 L53.38 109.83 L53.78 110.5 L54.14 111.21 L54.45 111.93 L54.69 112.63 L54.87 113.28 L54.98 113.9 L55.03 114.58 L55.02 115.3 L54.95 116.04 L54.82 116.78 L54.65 117.51 L54.44 118.21 L54.19 118.85 L53.89 119.46 L53.53 120.06 L53.11 120.66 L52.64 121.23 L52.12 121.78 L51.57 122.27 L51 122.72 L50.41 123.1 L49.78 123.43 L49.1 123.72 L48.37 123.96 L47.62 124.15 L46.86 124.29 L46.09 124.37 L45.33 124.39 L44.59 124.35 L43.85 124.25 L43.08 124.08 L42.29 123.85 L41.51 123.57 L40.74 123.23 L40 122.84 L39.3 122.42 L38.65 121.96 L38.03 121.45 L37.41 120.87 L36.82 120.24 L36.25 119.56 L35.73 118.86 L35.25 118.14 L34.83 117.42 L34.48 116.71 L34.17 115.99 L33.9 115.24 L33.66 114.47 L33.47 113.68 L33.33 112.88 L33.24 112.09 L33.22 111.31 L33.25 110.56 L33.34 109.81 L33.5 109.04 L33.71 108.25 L33.97 107.45 L34.29 106.66 L34.65 105.89 L35.05 105.14 L35.48 104.44 L35.95 103.82 L36.5 103.21 L37.12 102.59 L37.8 101.97 L38.53 101.33 L39.29 100.67 L40.06 99.99 L40.79 99.31 L41.47 98.68 L42.15 98.08 L42.86 97.47 L43.58 96.85 L44.3 96.21 L45.02 95.54 L45.73 94.84 L46.4 94.13 L46.99 93.45 L47.55 92.78 L48.09 92.09 L48.62 91.39 L49.12 90.66 L49.61 89.9 L50.07 89.11 L50.49 88.31 L50.85 87.5 L51.16 86.69 L51.43 85.87 L51.67 85.05 L51.87 84.22 L52.04 83.39 L52.19 82.57 L52.32 81.73 L52.43 80.84 L52.49 79.92 L52.51 79 L52.5 78.11 L52.49 77.29 L52.47 76.56 L52.45 75.97 L52.44 75.53 L50.16 75.27 L50.05 75.73 L49.93 76.34 L49.79 77.05 L49.62 77.81 L49.43 78.6 L49.2 79.37 L48.95 80.07 L48.68 80.67 L48.35 81.23 L47.99 81.78 L47.58 82.33 L47.16 82.85 L46.71 83.37 L46.25 83.88 L45.78 84.39 L45.31 84.89 L44.85 85.37 L44.37 85.84 L43.87 86.32 L43.33 86.81 L42.78 87.33 L42.2 87.88 L41.6 88.47 L41 89.07 L40.43 89.66 L39.83 90.27 L39.2 90.91 L38.54 91.6 L37.86 92.32 L37.16 93.09 L36.47 93.88 L35.81 94.69 L35.2 95.47 L34.58 96.26 L33.93 97.11 L33.28 97.99 L32.64 98.93 L32.02 99.9 L31.43 100.92 L30.92 101.96 L30.48 102.99 L30.1 104.02 L29.77 105.07 L29.48 106.13 L29.25 107.21 L29.08 108.29 L28.98 109.37 L28.95 110.44 L29 111.5 L29.12 112.56 L29.3 113.6 L29.54 114.63 L29.85 115.64 L30.21 116.63 L30.64 117.58 L31.12 118.49 L31.68 119.37 L32.3 120.23 L32.99 121.05 L33.72 121.83 L34.49 122.56 L35.29 123.25 L36.12 123.88 L36.95 124.44 L37.82 124.94 L38.72 125.38 L39.65 125.77 L40.6 126.11 L41.56 126.39 L42.52 126.6 L43.47 126.76 L44.41 126.85 L45.34 126.86 L46.28 126.81 L47.22 126.7 L48.14 126.52 L49.05 126.29 L49.93 126.01 L50.78 125.68 L51.59 125.3 L52.38 124.86 L53.15 124.37 L53.89 123.82 L54.61 123.22 L55.29 122.56 L55.92 121.87 L56.5 121.13 L57.01 120.35 L57.46 119.53 L57.87 118.66 L58.22 117.74 L58.51 116.78 L58.74 115.8 L58.9 114.79 L58.96 113.76 L58.93 112.72 L58.8 111.69 L58.57 110.65 L58.26 109.6 L57.87 108.56 L57.4 107.55 L56.85 106.57 L56.21 105.65 L55.47 104.81 L54.63 104.06 L53.72 103.42 L52.74 102.86 L51.72 102.39 L50.66 102.02 L49.58 101.75 L48.47 101.61 L47.33 101.61 L46.2 101.78 L45.11 102.11 L44.09 102.56 L43.13 103.1 L42.23 103.7 L41.4 104.37 L40.64 105.07 L39.96 105.84 L39.36 106.69 L38.88 107.61 L38.51 108.53 L38.24 109.45 L38.03 110.36 L37.89 111.23 L37.8 112.06 L37.76 112.85 L37.78 113.67 L37.88 114.47 L38.05 115.22 L38.26 115.93 L38.51 116.57 L38.78 117.16 L39.05 117.69 L39.33 118.18 L39.64 118.65 L39.99 119.08 L40.36 119.45 L40.73 119.75 L41.1 120 L41.45 120.2 L41.79 120.37 L42.12 120.54 L42.48 120.7 L42.87 120.82 L43.25 120.9 L43.61 120.95 L43.94 120.98 L44.23 121 L44.46 121.02 L44.64 121.04Z" fill="#231f20" fill-rule="evenodd" transform="translate(0 267.15)"/>
<path d="M47.04 61.55 L47.43 61.67 L47.83 61.93 L48.23 62.29 L48.64 62.73 L49.04 63.24 L49.42 63.79 L49.78 64.35 L50.1 64.9 L50.39 65.47 L50.67 66.09 L50.92 66.75 L51.16 67.43 L51.37 68.13 L51.57 68.84 L51.74 69.53 L51.9 70.2 L52.03 70.85 L52.15 71.51 L52.24 72.16 L52.31 72.81 L52.36 73.45 L52.41 74.1 L52.43 74.75 L52.45 75.4 L52.46 76.05 L52.45 76.7 L52.42 77.36 L52.38 78.01 L52.33 78.66 L52.27 79.31 L52.19 79.96 L52.1 80.6 L52 81.24 L51.89 81.88 L51.77 82.52 L51.63 83.16 L51.48 83.79 L51.31 84.4 L51.12 85.01 L50.9 85.6 L50.66 86.21 L50.4 86.84 L50.12 87.48 L49.82 88.11 L49.5 88.68 L49.16 89.19 L48.79 89.61 L48.4 89.9 L47.96 90.06 L47.46 90.1 L46.92 90.06 L46.36 89.94 L45.81 89.77 L45.29 89.58 L44.81 89.38 L44.4 89.2 L44.06 89.03 L43.76 88.84 L43.51 88.63 L43.28 88.41 L43.07 88.16 L42.88 87.89 L42.69 87.61 L42.5 87.3 L42.31 86.97 L42.13 86.62 L41.97 86.25 L41.81 85.86 L41.66 85.45 L41.52 85.01 L41.38 84.57 L41.25 84.1 L41.12 83.61 L40.99 83.1 L40.87 82.57 L40.75 82.02 L40.64 81.46 L40.55 80.88 L40.47 80.3 L40.4 79.7 L40.35 79.09 L40.3 78.47 L40.26 77.83 L40.24 77.18 L40.23 76.51 L40.25 75.85 L40.28 75.17 L40.35 74.5 L40.44 73.81 L40.56 73.11 L40.71 72.39 L40.87 71.67 L41.06 70.96 L41.26 70.25 L41.47 69.56 L41.7 68.9 L41.95 68.25 L42.21 67.59 L42.5 66.94 L42.8 66.31 L43.11 65.7 L43.44 65.12 L43.77 64.59 L44.1 64.1 L44.44 63.63 L44.79 63.17 L45.16 62.72 L45.53 62.32 L45.9 61.98 L46.28 61.72 L46.66 61.57ZM47.7 68.8 L47.97 68.85 L48.24 68.95 L48.52 69.11 L48.79 69.31 L49.05 69.56 L49.3 69.86 L49.51 70.21 L49.7 70.6 L49.87 71.06 L50.02 71.59 L50.16 72.18 L50.28 72.81 L50.37 73.47 L50.42 74.13 L50.44 74.78 L50.4 75.4 L50.31 76 L50.17 76.61 L49.99 77.22 L49.77 77.83 L49.53 78.44 L49.27 79.04 L48.99 79.62 L48.7 80.2 L48.39 80.78 L48.05 81.36 L47.67 81.94 L47.29 82.51 L46.9 83.06 L46.51 83.58 L46.14 84.07 L45.8 84.5 L45.47 84.91 L45.15 85.33 L44.82 85.73 L44.51 86.09 L44.22 86.38 L43.95 86.6 L43.71 86.71 L43.5 86.7 L43.33 86.55 L43.21 86.27 L43.11 85.88 L43.03 85.41 L42.97 84.89 L42.92 84.33 L42.86 83.76 L42.8 83.2 L42.73 82.63 L42.65 82.01 L42.57 81.36 L42.49 80.68 L42.43 80 L42.39 79.31 L42.38 78.64 L42.4 78 L42.45 77.37 L42.53 76.73 L42.62 76.09 L42.74 75.46 L42.88 74.85 L43.04 74.26 L43.21 73.71 L43.4 73.2 L43.61 72.73 L43.85 72.29 L44.1 71.87 L44.38 71.49 L44.66 71.13 L44.94 70.8 L45.23 70.49 L45.5 70.2 L45.77 69.93 L46.05 69.66 L46.33 69.42 L46.61 69.2 L46.89 69.02 L47.16 68.89 L47.43 68.81Z" fill="#231f20" fill-rule="evenodd" transform="translate(0 267.15)"/>
<path d="M42 85.5 L42.07 85.82 L42.17 86.24 L42.28 86.75 L42.41 87.31 L42.54 87.9 L42.67 88.48 L42.79 89.02 L42.9 89.5 L43 89.9 L43.08 90.23 L43.17 90.52 L43.25 90.81 L43.33 91.13 L43.42 91.49 L43.5 91.94 L43.6 92.5 L43.69 93.17 L43.78 93.92 L43.86 94.74 L43.95 95.61 L44.05 96.54 L44.17 97.5 L44.32 98.49 L44.5 99.5 L44.72 100.52 L44.97 101.58 L45.26 102.66 L45.56 103.77 L45.87 104.93 L46.19 106.14 L46.5 107.39 L46.8 108.7 L47.1 110.11 L47.4 111.62 L47.7 113.21 L48.01 114.83 L48.31 116.45 L48.61 118.03 L48.91 119.52 L49.2 120.9 L49.49 122.17 L49.79 123.37 L50.08 124.51 L50.38 125.59 L50.66 126.64 L50.93 127.65 L51.17 128.63 L51.4 129.6 L51.61 130.55 L51.81 131.46 L52.01 132.35 L52.18 133.21 L52.33 134.03 L52.46 134.82 L52.55 135.58 L52.6 136.3 L52.61 136.99 L52.59 137.64 L52.54 138.25 L52.46 138.83 L52.36 139.38 L52.23 139.91 L52.07 140.42 L51.9 140.9 L51.71 141.36 L51.49 141.8 L51.25 142.21 L50.99 142.6 L50.7 142.96 L50.39 143.3 L50.06 143.61 L49.7 143.9 L49.31 144.17 L48.87 144.42 L48.41 144.64 L47.93 144.84 L47.43 145.01 L46.94 145.15 L46.46 145.25 L46 145.3 L45.55 145.3 L45.11 145.26 L44.66 145.17 L44.22 145.05 L43.79 144.9 L43.37 144.74 L42.98 144.57 L42.6 144.4 L42.24 144.21 L41.87 143.97 L41.52 143.71 L41.19 143.44 L40.88 143.18 L40.61 142.94 L40.38 142.75 L40.2 142.6" fill="none" stroke="#231f20" stroke-width="1.6" stroke-linecap="round" transform="translate(0 267.15)"/>
<circle cx="40.5" cy="405.45" r="4.6" fill="#231f20"/>
<path d="M32.7 160.54 L32.77 160.17 L32.85 159.66 L32.93 159.06 L33.04 158.4 L33.19 157.7 L33.38 157.02 L33.62 156.38 L33.92 155.81 L34.3 155.3 L34.73 154.81 L35.21 154.32 L35.74 153.86 L36.31 153.42 L36.91 153.02 L37.53 152.65 L38.18 152.32 L38.85 152.02 L39.57 151.73 L40.32 151.48 L41.1 151.26 L41.9 151.08 L42.71 150.96 L43.52 150.9 L44.32 150.9 L45.14 150.97 L45.99 151.1 L46.85 151.29 L47.72 151.53 L48.57 151.82 L49.41 152.16 L50.2 152.55 L50.94 152.98 L51.64 153.47 L52.33 154.03 L52.99 154.64 L53.61 155.29 L54.2 155.99 L54.75 156.71 L55.23 157.44 L55.66 158.18 L56.04 158.93 L56.36 159.71 L56.64 160.52 L56.86 161.35 L57.04 162.2 L57.17 163.05 L57.24 163.92 L57.27 164.79 L57.24 165.69 L57.15 166.61 L57.01 167.56 L56.82 168.52 L56.59 169.47 L56.31 170.4 L56 171.3 L55.66 172.17 L55.29 172.99 L54.87 173.78 L54.41 174.56 L53.91 175.31 L53.38 176.05 L52.81 176.77 L52.22 177.5 L51.6 178.22 L50.94 178.94 L50.24 179.67 L49.49 180.4 L48.72 181.11 L47.93 181.81 L47.14 182.47 L46.34 183.11 L45.55 183.7 L44.77 184.24 L44 184.74 L43.23 185.2 L42.44 185.64 L41.65 186.06 L40.83 186.47 L39.99 186.88 L39.12 187.29 L38.16 187.72 L37.1 188.18 L35.97 188.63 L34.85 189.07 L33.77 189.49 L32.8 189.86 L31.98 190.17 L31.37 190.41 L31.56 189.84 L32.08 189.47 L32.78 188.98 L33.62 188.39 L34.54 187.74 L35.51 187.04 L36.47 186.32 L37.37 185.61 L38.18 184.93 L38.91 184.26 L39.61 183.58 L40.29 182.9 L40.95 182.2 L41.59 181.48 L42.21 180.76 L42.8 180.01 L43.38 179.26 L43.93 178.47 L44.47 177.66 L44.98 176.84 L45.47 175.99 L45.94 175.15 L46.38 174.3 L46.78 173.46 L47.16 172.64 L47.49 171.82 L47.8 171 L48.07 170.18 L48.32 169.37 L48.54 168.56 L48.73 167.76 L48.9 166.98 L49.05 166.21 L49.17 165.46 L49.27 164.71 L49.35 163.98 L49.4 163.25 L49.43 162.54 L49.42 161.85 L49.39 161.19 L49.33 160.54 L49.24 159.91 L49.11 159.29 L48.96 158.69 L48.78 158.11 L48.58 157.55 L48.35 157.03 L48.09 156.54 L47.82 156.1 L47.51 155.7 L47.18 155.33 L46.81 154.99 L46.42 154.69 L46.02 154.43 L45.61 154.19 L45.2 153.99 L44.79 153.83 L44.39 153.71 L43.98 153.62 L43.57 153.58 L43.15 153.57 L42.72 153.59 L42.31 153.62 L41.89 153.67 L41.49 153.74 L41.08 153.81 L40.67 153.9 L40.26 154.02 L39.85 154.15 L39.45 154.3 L39.07 154.47 L38.71 154.66 L38.37 154.87 L38.04 155.12 L37.73 155.43 L37.42 155.77 L37.13 156.12 L36.87 156.47 L36.64 156.78 L36.44 157.04 L36.29 157.23Z" fill="#231f20" transform="translate(0 267.15)"/>
<circle cx="37.71" cy="428.92" r="5.2" fill="#231f20"/>
<circle cx="62.09" cy="424.86" r="2.55" fill="#231f20"/>
<circle cx="62.09" cy="435.44" r="2.55" fill="#231f20"/>
<path d="M97.2 405.42H124.7" stroke="#4a4646" stroke-width="1.2" fill="none"/>
<path d="M120.75 393.26 L120.62 394.22 L120.25 395.16 L119.64 396.05 L118.8 396.87 L117.76 397.61 L116.55 398.24 L115.18 398.74 L113.7 399.11 L112.15 399.33 L110.55 399.41 L108.95 399.33 L107.4 399.11 L105.92 398.74 L104.55 398.24 L103.34 397.61 L102.3 396.87 L101.46 396.05 L100.85 395.16 L100.48 394.22 L100.35 393.26 L100.48 392.3 L100.85 391.36 L101.46 390.47 L102.3 389.65 L103.34 388.91 L104.55 388.28 L105.92 387.78 L107.4 387.41 L108.95 387.19 L110.55 387.11 L112.15 387.19 L113.7 387.41 L115.18 387.78 L116.55 388.28 L117.76 388.91 L118.8 389.65 L119.64 390.47 L120.25 391.36 L120.62 392.3ZM113.82 391.52 L114.16 392.26 L114.41 393.03 L114.57 393.8 L114.63 394.55 L114.59 395.28 L114.45 395.95 L114.21 396.56 L113.88 397.09 L113.47 397.52 L112.99 397.85 L112.45 398.07 L111.86 398.16 L111.24 398.14 L110.6 398 L109.97 397.73 L109.34 397.36 L108.75 396.89 L108.2 396.33 L107.71 395.69 L107.28 395 L106.94 394.26 L106.69 393.49 L106.53 392.72 L106.47 391.97 L106.51 391.24 L106.65 390.57 L106.89 389.96 L107.22 389.43 L107.63 389 L108.11 388.67 L108.65 388.45 L109.24 388.36 L109.86 388.38 L110.5 388.52 L111.13 388.79 L111.76 389.16 L112.35 389.63 L112.9 390.19 L113.39 390.83Z" fill="#231f20" fill-rule="evenodd"/>
<path d="M120.75 405.42 L120.62 406.39 L120.25 407.33 L119.64 408.22 L118.8 409.04 L117.76 409.77 L116.55 410.4 L115.18 410.9 L113.7 411.27 L112.15 411.5 L110.55 411.57 L108.95 411.5 L107.4 411.27 L105.92 410.9 L104.55 410.4 L103.34 409.77 L102.3 409.04 L101.46 408.22 L100.85 407.33 L100.48 406.39 L100.35 405.42 L100.48 404.46 L100.85 403.52 L101.46 402.63 L102.3 401.81 L103.34 401.08 L104.55 400.45 L105.92 399.95 L107.4 399.58 L108.95 399.35 L110.55 399.27 L112.15 399.35 L113.7 399.58 L115.18 399.95 L116.55 400.45 L117.76 401.08 L118.8 401.81 L119.64 402.63 L120.25 403.52 L120.62 404.46ZM113.82 403.69 L114.16 404.43 L114.41 405.19 L114.57 405.96 L114.63 406.72 L114.59 407.44 L114.45 408.12 L114.21 408.73 L113.88 409.25 L113.47 409.69 L112.99 410.02 L112.45 410.23 L111.86 410.33 L111.24 410.3 L110.6 410.16 L109.97 409.9 L109.34 409.53 L108.75 409.06 L108.2 408.5 L107.71 407.86 L107.28 407.16 L106.94 406.42 L106.69 405.66 L106.53 404.89 L106.47 404.13 L106.51 403.41 L106.65 402.73 L106.89 402.12 L107.22 401.6 L107.63 401.16 L108.11 400.83 L108.65 400.62 L109.24 400.52 L109.86 400.55 L110.5 400.69 L111.13 400.95 L111.76 401.32 L112.35 401.79 L112.9 402.35 L113.39 402.99Z" fill="#231f20" fill-rule="evenodd"/>
<path d="M120.75 417.59 L120.62 418.55 L120.25 419.49 L119.64 420.38 L118.8 421.2 L117.76 421.94 L116.55 422.57 L115.18 423.07 L113.7 423.44 L112.15 423.66 L110.55 423.74 L108.95 423.66 L107.4 423.44 L105.92 423.07 L104.55 422.57 L103.34 421.94 L102.3 421.2 L101.46 420.38 L100.85 419.49 L100.48 418.55 L100.35 417.59 L100.48 416.63 L100.85 415.69 L101.46 414.8 L102.3 413.98 L103.34 413.24 L104.55 412.61 L105.92 412.11 L107.4 411.74 L108.95 411.52 L110.55 411.44 L112.15 411.52 L113.7 411.74 L115.18 412.11 L116.55 412.61 L117.76 413.24 L118.8 413.98 L119.64 414.8 L120.25 415.69 L120.62 416.63ZM113.82 415.85 L114.16 416.59 L114.41 417.36 L114.57 418.13 L114.63 418.88 L114.59 419.61 L114.45 420.28 L114.21 420.89 L113.88 421.42 L113.47 421.85 L112.99 422.18 L112.45 422.4 L111.86 422.49 L111.24 422.47 L110.6 422.33 L109.97 422.06 L109.34 421.69 L108.75 421.22 L108.2 420.66 L107.71 420.02 L107.28 419.33 L106.94 418.59 L106.69 417.82 L106.53 417.05 L106.47 416.3 L106.51 415.57 L106.65 414.9 L106.89 414.29 L107.22 413.76 L107.63 413.33 L108.11 413 L108.65 412.78 L109.24 412.69 L109.86 412.71 L110.5 412.85 L111.13 413.12 L111.76 413.49 L112.35 413.96 L112.9 414.52 L113.39 415.16Z" fill="#231f20" fill-rule="evenodd"/>
<path d="M152.7 308.1H175.7" stroke="#231f20" stroke-width="1.3" fill="none"/>
<path d="M152.7 320.27H175.7" stroke="#231f20" stroke-width="1.3" fill="none"/>
<path d="M152.7 332.43H175.7" stroke="#231f20" stroke-width="1.3" fill="none"/>
<ellipse cx="164.1" cy="308.1" rx="7.7" ry="5.2" fill="#231f20" transform="rotate(-24 164.1 308.1)"/>
<ellipse cx="164.1" cy="320.27" rx="7.7" ry="5.2" fill="#231f20" transform="rotate(-24 164.1 320.27)"/>
<ellipse cx="164.1" cy="332.43" rx="7.7" ry="5.2" fill="#231f20" transform="rotate(-24 164.1 332.43)"/>
<ellipse cx="164.1" cy="350.68" rx="7.7" ry="5.2" fill="#231f20" transform="rotate(-24 164.1 350.68)"/>
<ellipse cx="164.1" cy="375.01" rx="7.7" ry="5.2" fill="#231f20" transform="rotate(-24 164.1 375.01)"/>
<path d="M148.38 309.5V330.69 M151.22 309.15V330.04" stroke="#231f20" stroke-width="1" fill="none"/>
<path d="M146.85 315.46 L152.75 313.87 L152.75 316.47 L146.85 318.06Z" fill="#231f20"/>
<path d="M146.85 323.07 L152.75 321.48 L152.75 324.08 L146.85 325.67Z" fill="#231f20"/>
<path d="M223.6 320.27H247.1" stroke="#231f20" stroke-width="1.3" fill="none"/>
<path d="M223.6 332.43H247.1" stroke="#231f20" stroke-width="1.3" fill="none"/>
<ellipse cx="235.5" cy="320.27" rx="7.7" ry="5.2" fill="#231f20" transform="rotate(-24 235.5 320.27)"/>
<ellipse cx="235.5" cy="338.52" rx="7.7" ry="5.2" fill="#231f20" transform="rotate(-24 235.5 338.52)"/>
<ellipse cx="235.5" cy="362.85" rx="7.7" ry="5.2" fill="#231f20" transform="rotate(-24 235.5 362.85)"/>
<path d="M293 308.1H316" stroke="#231f20" stroke-width="1.3" fill="none"/>
<path d="M293 320.27H316" stroke="#231f20" stroke-width="1.3" fill="none"/>
<path d="M293 332.43H316" stroke="#231f20" stroke-width="1.3" fill="none"/>
<ellipse cx="304.5" cy="308.1" rx="7.7" ry="5.2" fill="#231f20" transform="rotate(-24 304.5 308.1)"/>
<ellipse cx="304.5" cy="326.35" rx="7.7" ry="5.2" fill="#231f20" transform="rotate(-24 304.5 326.35)"/>
<ellipse cx="304.5" cy="350.68" rx="7.7" ry="5.2" fill="#231f20" transform="rotate(-24 304.5 350.68)"/>
<path d="M394.4 308.1H417.4" stroke="#231f20" stroke-width="1.3" fill="none"/>
<path d="M394.4 320.27H417.4" stroke="#231f20" stroke-width="1.3" fill="none"/>
<path d="M394.4 332.43H417.4" stroke="#231f20" stroke-width="1.3" fill="none"/>
<ellipse cx="405.8" cy="308.1" rx="7.7" ry="5.2" fill="#231f20" transform="rotate(-24 405.8 308.1)"/>
<ellipse cx="405.8" cy="320.27" rx="7.7" ry="5.2" fill="#231f20" transform="rotate(-24 405.8 320.27)"/>
<ellipse cx="405.8" cy="332.43" rx="7.7" ry="5.2" fill="#231f20" transform="rotate(-24 405.8 332.43)"/>
<ellipse cx="405.8" cy="350.68" rx="7.7" ry="5.2" fill="#231f20" transform="rotate(-24 405.8 350.68)"/>
<ellipse cx="405.8" cy="375.01" rx="7.7" ry="5.2" fill="#231f20" transform="rotate(-24 405.8 375.01)"/>
<path d="M465.3 320.27H488.8" stroke="#231f20" stroke-width="1.3" fill="none"/>
<path d="M465.3 332.43H488.8" stroke="#231f20" stroke-width="1.3" fill="none"/>
<ellipse cx="477.2" cy="320.27" rx="7.7" ry="5.2" fill="#231f20" transform="rotate(-24 477.2 320.27)"/>
<ellipse cx="477.2" cy="338.52" rx="7.7" ry="5.2" fill="#231f20" transform="rotate(-24 477.2 338.52)"/>
<ellipse cx="477.2" cy="362.85" rx="7.7" ry="5.2" fill="#231f20" transform="rotate(-24 477.2 362.85)"/>
<path d="M534.6 308.1H557.6" stroke="#231f20" stroke-width="1.3" fill="none"/>
<path d="M534.6 320.27H557.6" stroke="#231f20" stroke-width="1.3" fill="none"/>
<path d="M534.6 332.43H557.6" stroke="#231f20" stroke-width="1.3" fill="none"/>
<ellipse cx="546.1" cy="308.1" rx="7.7" ry="5.2" fill="#231f20" transform="rotate(-24 546.1 308.1)"/>
<ellipse cx="546.1" cy="326.35" rx="7.7" ry="5.2" fill="#231f20" transform="rotate(-24 546.1 326.35)"/>
<ellipse cx="546.1" cy="350.68" rx="7.7" ry="5.2" fill="#231f20" transform="rotate(-24 546.1 350.68)"/>
<path d="M174.2 418.09 L174.07 419.05 L173.7 419.99 L173.09 420.88 L172.25 421.7 L171.21 422.44 L170 423.07 L168.63 423.57 L167.15 423.94 L165.6 424.16 L164 424.24 L162.4 424.16 L160.85 423.94 L159.37 423.57 L158 423.07 L156.79 422.44 L155.75 421.7 L154.91 420.88 L154.3 419.99 L153.93 419.05 L153.8 418.09 L153.93 417.13 L154.3 416.19 L154.91 415.3 L155.75 414.48 L156.79 413.74 L158 413.11 L159.37 412.61 L160.85 412.24 L162.4 412.02 L164 411.94 L165.6 412.02 L167.15 412.24 L168.63 412.61 L170 413.11 L171.21 413.74 L172.25 414.48 L173.09 415.3 L173.7 416.19 L174.07 417.13ZM167.27 416.35 L167.61 417.09 L167.86 417.86 L168.02 418.63 L168.08 419.38 L168.04 420.11 L167.9 420.78 L167.66 421.39 L167.33 421.92 L166.92 422.35 L166.44 422.68 L165.9 422.9 L165.31 422.99 L164.69 422.97 L164.05 422.83 L163.42 422.56 L162.79 422.19 L162.2 421.72 L161.65 421.16 L161.16 420.52 L160.73 419.83 L160.39 419.09 L160.14 418.32 L159.98 417.55 L159.92 416.8 L159.96 416.07 L160.1 415.4 L160.34 414.79 L160.67 414.26 L161.08 413.83 L161.56 413.5 L162.1 413.28 L162.69 413.19 L163.31 413.21 L163.95 413.35 L164.58 413.62 L165.21 413.99 L165.8 414.46 L166.35 415.02 L166.84 415.66Z" fill="#231f20" fill-rule="evenodd"/>
<path d="M224.2 405.42H250.8" stroke="#4a4646" stroke-width="1.2" fill="none"/>
<path d="M247.7 405.72 L247.57 406.69 L247.2 407.63 L246.59 408.52 L245.75 409.34 L244.71 410.07 L243.5 410.7 L242.13 411.2 L240.65 411.57 L239.1 411.8 L237.5 411.87 L235.9 411.8 L234.35 411.57 L232.87 411.2 L231.5 410.7 L230.29 410.07 L229.25 409.34 L228.41 408.52 L227.8 407.63 L227.43 406.69 L227.3 405.72 L227.43 404.76 L227.8 403.82 L228.41 402.93 L229.25 402.11 L230.29 401.38 L231.5 400.75 L232.87 400.25 L234.35 399.88 L235.9 399.65 L237.5 399.57 L239.1 399.65 L240.65 399.88 L242.13 400.25 L243.5 400.75 L244.71 401.38 L245.75 402.11 L246.59 402.93 L247.2 403.82 L247.57 404.76ZM240.77 403.99 L241.11 404.73 L241.36 405.49 L241.52 406.26 L241.58 407.02 L241.54 407.74 L241.4 408.42 L241.16 409.03 L240.83 409.55 L240.42 409.99 L239.94 410.32 L239.4 410.53 L238.81 410.63 L238.19 410.6 L237.55 410.46 L236.92 410.2 L236.29 409.83 L235.7 409.36 L235.15 408.8 L234.66 408.16 L234.23 407.46 L233.89 406.72 L233.64 405.96 L233.48 405.19 L233.42 404.43 L233.46 403.71 L233.6 403.03 L233.84 402.42 L234.17 401.9 L234.58 401.46 L235.06 401.13 L235.6 400.92 L236.19 400.82 L236.81 400.85 L237.45 400.99 L238.08 401.25 L238.71 401.62 L239.3 402.09 L239.85 402.65 L240.34 403.29Z" fill="#231f20" fill-rule="evenodd"/>
<path d="M316 393.46 L315.87 394.42 L315.5 395.36 L314.89 396.25 L314.05 397.07 L313.01 397.81 L311.8 398.44 L310.43 398.94 L308.95 399.31 L307.4 399.53 L305.8 399.61 L304.2 399.53 L302.65 399.31 L301.17 398.94 L299.8 398.44 L298.59 397.81 L297.55 397.07 L296.71 396.25 L296.1 395.36 L295.73 394.42 L295.6 393.46 L295.73 392.5 L296.1 391.56 L296.71 390.67 L297.55 389.85 L298.59 389.11 L299.8 388.48 L301.17 387.98 L302.65 387.61 L304.2 387.39 L305.8 387.31 L307.4 387.39 L308.95 387.61 L310.43 387.98 L311.8 388.48 L313.01 389.11 L314.05 389.85 L314.89 390.67 L315.5 391.56 L315.87 392.5ZM309.07 391.72 L309.41 392.46 L309.66 393.23 L309.82 394 L309.88 394.75 L309.84 395.48 L309.7 396.15 L309.46 396.76 L309.13 397.29 L308.72 397.72 L308.24 398.05 L307.7 398.27 L307.11 398.36 L306.49 398.34 L305.85 398.2 L305.22 397.93 L304.59 397.56 L304 397.09 L303.45 396.53 L302.96 395.89 L302.53 395.2 L302.19 394.46 L301.94 393.69 L301.78 392.92 L301.72 392.17 L301.76 391.44 L301.9 390.77 L302.14 390.16 L302.47 389.63 L302.88 389.2 L303.36 388.87 L303.9 388.65 L304.49 388.56 L305.11 388.58 L305.75 388.72 L306.38 388.99 L307.01 389.36 L307.6 389.83 L308.15 390.39 L308.64 391.03Z" fill="#231f20" fill-rule="evenodd"/>
<path d="M416.4 418.19 L416.27 419.15 L415.9 420.09 L415.29 420.98 L414.45 421.8 L413.41 422.54 L412.2 423.17 L410.83 423.67 L409.35 424.04 L407.8 424.26 L406.2 424.34 L404.6 424.26 L403.05 424.04 L401.57 423.67 L400.2 423.17 L398.99 422.54 L397.95 421.8 L397.11 420.98 L396.5 420.09 L396.13 419.15 L396 418.19 L396.13 417.23 L396.5 416.29 L397.11 415.4 L397.95 414.58 L398.99 413.84 L400.2 413.21 L401.57 412.71 L403.05 412.34 L404.6 412.12 L406.2 412.04 L407.8 412.12 L409.35 412.34 L410.83 412.71 L412.2 413.21 L413.41 413.84 L414.45 414.58 L415.29 415.4 L415.9 416.29 L416.27 417.23ZM409.47 416.45 L409.81 417.19 L410.06 417.96 L410.22 418.73 L410.28 419.48 L410.24 420.21 L410.1 420.88 L409.86 421.49 L409.53 422.02 L409.12 422.45 L408.64 422.78 L408.1 423 L407.51 423.09 L406.89 423.07 L406.25 422.93 L405.62 422.66 L404.99 422.29 L404.4 421.82 L403.85 421.26 L403.36 420.62 L402.93 419.93 L402.59 419.19 L402.34 418.42 L402.18 417.65 L402.12 416.9 L402.16 416.17 L402.3 415.5 L402.54 414.89 L402.87 414.36 L403.28 413.93 L403.76 413.6 L404.3 413.38 L404.89 413.29 L405.51 413.31 L406.15 413.45 L406.78 413.72 L407.41 414.09 L408 414.56 L408.55 415.12 L409.04 415.76Z" fill="#231f20" fill-rule="evenodd"/>
<path d="M465.8 405.42H492.4" stroke="#4a4646" stroke-width="1.2" fill="none"/>
<path d="M489 405.72 L488.87 406.69 L488.5 407.63 L487.89 408.52 L487.05 409.34 L486.01 410.07 L484.8 410.7 L483.43 411.2 L481.95 411.57 L480.4 411.8 L478.8 411.87 L477.2 411.8 L475.65 411.57 L474.17 411.2 L472.8 410.7 L471.59 410.07 L470.55 409.34 L469.71 408.52 L469.1 407.63 L468.73 406.69 L468.6 405.72 L468.73 404.76 L469.1 403.82 L469.71 402.93 L470.55 402.11 L471.59 401.38 L472.8 400.75 L474.17 400.25 L475.65 399.88 L477.2 399.65 L478.8 399.57 L480.4 399.65 L481.95 399.88 L483.43 400.25 L484.8 400.75 L486.01 401.38 L487.05 402.11 L487.89 402.93 L488.5 403.82 L488.87 404.76ZM482.07 403.99 L482.41 404.73 L482.66 405.49 L482.82 406.26 L482.88 407.02 L482.84 407.74 L482.7 408.42 L482.46 409.03 L482.13 409.55 L481.72 409.99 L481.24 410.32 L480.7 410.53 L480.11 410.63 L479.49 410.6 L478.85 410.46 L478.22 410.2 L477.59 409.83 L477 409.36 L476.45 408.8 L475.96 408.16 L475.53 407.46 L475.19 406.72 L474.94 405.96 L474.78 405.19 L474.72 404.43 L474.76 403.71 L474.9 403.03 L475.14 402.42 L475.47 401.9 L475.88 401.46 L476.36 401.13 L476.9 400.92 L477.49 400.82 L478.11 400.85 L478.75 400.99 L479.38 401.25 L480.01 401.62 L480.6 402.09 L481.15 402.65 L481.64 403.29Z" fill="#231f20" fill-rule="evenodd"/>
<path d="M557.9 393.66 L557.77 394.62 L557.4 395.56 L556.79 396.45 L555.95 397.27 L554.91 398.01 L553.7 398.64 L552.33 399.14 L550.85 399.51 L549.3 399.73 L547.7 399.81 L546.1 399.73 L544.55 399.51 L543.07 399.14 L541.7 398.64 L540.49 398.01 L539.45 397.27 L538.61 396.45 L538 395.56 L537.63 394.62 L537.5 393.66 L537.63 392.7 L538 391.76 L538.61 390.87 L539.45 390.05 L540.49 389.31 L541.7 388.68 L543.07 388.18 L544.55 387.81 L546.1 387.59 L547.7 387.51 L549.3 387.59 L550.85 387.81 L552.33 388.18 L553.7 388.68 L554.91 389.31 L555.95 390.05 L556.79 390.87 L557.4 391.76 L557.77 392.7ZM550.97 391.92 L551.31 392.66 L551.56 393.43 L551.72 394.2 L551.78 394.95 L551.74 395.68 L551.6 396.35 L551.36 396.96 L551.03 397.49 L550.62 397.92 L550.14 398.25 L549.6 398.47 L549.01 398.56 L548.39 398.54 L547.75 398.4 L547.12 398.13 L546.49 397.76 L545.9 397.29 L545.35 396.73 L544.86 396.09 L544.43 395.4 L544.09 394.66 L543.84 393.89 L543.68 393.12 L543.62 392.37 L543.66 391.64 L543.8 390.97 L544.04 390.36 L544.37 389.83 L544.78 389.4 L545.26 389.07 L545.8 388.85 L546.39 388.76 L547.01 388.78 L547.65 388.92 L548.28 389.19 L548.91 389.56 L549.5 390.03 L550.05 390.59 L550.54 391.23Z" fill="#231f20" fill-rule="evenodd"/>
<path d="M155.3 157.9 L155.3 177.9 L314.5 177.9 L314.5 133.3" stroke="#3f99c4" stroke-width="1.2" fill="none" stroke-linejoin="miter"/>
<path d="M239.6 178.4V184.5" stroke="#3f99c4" stroke-width="1.2" fill="none"/>
<path d="M233.15 193.7 L239.6 187.75 L246.05 193.7 L239.6 199.65ZM235.76 192.36 L241.05 197.24 L243.44 195.04 L238.15 190.16Z" fill="#3f99c4" fill-rule="evenodd"/>
<path d="M163.8 159.7 L163.8 206.3 L227 206.3 L227 146" stroke="#3f99c4" stroke-width="1.2" fill="none" stroke-linejoin="miter"/>
<path d="M249 146 L249 206.3 L306.8 206.3 L306.8 136.6" stroke="#3f99c4" stroke-width="1.2" fill="none" stroke-linejoin="miter"/>
<path d="M185.8 211.4H212.4" stroke="#4a4646" stroke-width="1.45" fill="none"/>
<path d="M185.8 223.8H212.4" stroke="#4a4646" stroke-width="1.45" fill="none"/>
<path d="M185.8 236H212.4" stroke="#4a4646" stroke-width="1.45" fill="none"/>
<path d="M198.4 206.3V227.5" stroke="#3f99c4" stroke-width="1.2" fill="none"/>
<path d="M191.8 236.3 L198.6 230.15 L205.4 236.3 L198.6 242.45ZM194.55 234.92 L200.13 239.96 L202.65 237.68 L197.07 232.64Z" fill="#3f99c4" fill-rule="evenodd"/>
<path d="M195.2 236H201.6" stroke="#4a4646" stroke-width="1.1" fill="none"/>
<path d="M266.6 211.4H293.5" stroke="#4a4646" stroke-width="1.45" fill="none"/>
<path d="M266.6 223.8H293.5" stroke="#4a4646" stroke-width="1.45" fill="none"/>
<path d="M266.6 236H293.5" stroke="#4a4646" stroke-width="1.45" fill="none"/>
<path d="M280 206.3V227.5" stroke="#3f99c4" stroke-width="1.2" fill="none"/>
<path d="M273.4 236.3 L280.2 230.15 L287 236.3 L280.2 242.45ZM276.15 234.92 L281.73 239.96 L284.25 237.68 L278.67 232.64Z" fill="#3f99c4" fill-rule="evenodd"/>
<path d="M276.8 236H283.2" stroke="#4a4646" stroke-width="1.1" fill="none"/>
<path d="M396.9 157.9 L396.9 177.9 L556.3 177.9 L556.3 133.3" stroke="#3f99c4" stroke-width="1.2" fill="none" stroke-linejoin="miter"/>
<path d="M476.9 178.4V184.5" stroke="#3f99c4" stroke-width="1.2" fill="none"/>
<path d="M469.75 193.7 L476.2 187.75 L482.65 193.7 L476.2 199.65ZM472.36 192.36 L477.65 197.24 L480.04 195.04 L474.75 190.16Z" fill="#9897c6" fill-rule="evenodd"/>
<path d="M404 159.7 L404 206.3 L467 206.3 L467 146.2" stroke="#bd4c4c" stroke-width="1.2" fill="none" stroke-linejoin="miter"/>
<path d="M484.2 146.2 L484.2 206.3 L542 206.3 L542 137.4" stroke="#bd4c4c" stroke-width="1.2" fill="none" stroke-linejoin="miter"/>
<path d="M426 211.6H452.9" stroke="#4a4646" stroke-width="1.45" fill="none"/>
<path d="M426 223.8H452.9" stroke="#4a4646" stroke-width="1.45" fill="none"/>
<path d="M426 236.2H452.9" stroke="#4a4646" stroke-width="1.45" fill="none"/>
<path d="M439.1 206.3V227.6" stroke="#bd4c4c" stroke-width="1.2" fill="none"/>
<path d="M432.45 236.2 L438.9 230.25 L445.35 236.2 L438.9 242.15ZM435.06 234.86 L440.35 239.74 L442.74 237.54 L437.45 232.66Z" fill="#bd4c4c" fill-rule="evenodd"/>
<path d="M435.7 236.2H442.1" stroke="#4a4646" stroke-width="1.1" fill="none"/>
<path d="M501.7 211.6H528.6" stroke="#4a4646" stroke-width="1.45" fill="none"/>
<path d="M501.7 223.8H528.6" stroke="#4a4646" stroke-width="1.45" fill="none"/>
<path d="M501.7 236.2H528.6" stroke="#4a4646" stroke-width="1.45" fill="none"/>
<path d="M514.7 206.3V227.6" stroke="#bd4c4c" stroke-width="1.2" fill="none"/>
<path d="M508.05 236.2 L514.5 230.25 L520.95 236.2 L514.5 242.15ZM510.66 234.86 L515.95 239.74 L518.34 237.54 L513.05 232.66Z" fill="#bd4c4c" fill-rule="evenodd"/>
<path d="M511.3 236.2H517.7" stroke="#4a4646" stroke-width="1.1" fill="none"/>
<path d="M426.32 225.67V241.82 M428.48 225.4V241.33" stroke="#bd4c4c" stroke-width="0.8" fill="none"/>
<path d="M425.15 230.21 L429.65 229 L429.65 230.98 L425.15 232.19Z" fill="#bd4c4c"/>
<path d="M425.15 236.02 L429.65 234.81 L429.65 236.79 L425.15 238Z" fill="#bd4c4c"/>
<path d="M501.2 229.2V243.6" stroke="#bd4c4c" stroke-width="0.9" fill="none"/>
<path d="M501.2 238 C504.4 235.8 506.8 238.4 501.2 243.4" stroke="#bd4c4c" stroke-width="1.0" fill="none"/>
<path d="M155.3 425.2 L155.3 445.2 L314.5 445.2 L314.5 400.8" stroke="#3f99c4" stroke-width="1.2" fill="none" stroke-linejoin="miter"/>
<path d="M239.6 445.7V451.8" stroke="#3f99c4" stroke-width="1.2" fill="none"/>
<path d="M233.15 461 L239.6 455.05 L246.05 461 L239.6 466.95ZM235.76 459.66 L241.05 464.54 L243.44 462.34 L238.15 457.46Z" fill="#3f99c4" fill-rule="evenodd"/>
<path d="M163.8 427.2 L163.8 473.3 L227.3 473.3 L227.3 413.2" stroke="#bd4c4c" stroke-width="1.2" fill="none" stroke-linejoin="miter"/>
<path d="M249 413.7 L249 473.3 L307.5 473.3 L307.5 404" stroke="#3f99c4" stroke-width="1.2" fill="none" stroke-linejoin="miter"/>
<path d="M185.4 479H212.8" stroke="#4a4646" stroke-width="1.45" fill="none"/>
<path d="M185.4 491.2H212.8" stroke="#4a4646" stroke-width="1.45" fill="none"/>
<path d="M185.4 503.3H212.8" stroke="#4a4646" stroke-width="1.45" fill="none"/>
<path d="M185.4 514.2H212.8" stroke="#4a4646" stroke-width="1.45" fill="none"/>
<path d="M198.4 473.3V503.6" stroke="#bd4c4c" stroke-width="1.2" fill="none"/>
<path d="M192.15 514.4 L198.6 508.45 L205.05 514.4 L198.6 520.35ZM194.76 513.06 L200.05 517.94 L202.44 515.74 L197.15 510.86Z" fill="#bd4c4c" fill-rule="evenodd"/>
<path d="M195.3 514.3H201.9" stroke="#4a4646" stroke-width="1.1" fill="none"/>
<path d="M266.8 479.2H293.7" stroke="#4a4646" stroke-width="1.45" fill="none"/>
<path d="M266.8 491.4H293.7" stroke="#4a4646" stroke-width="1.45" fill="none"/>
<path d="M280.1 473.3V486.5" stroke="#3f99c4" stroke-width="1.2" fill="none"/>
<path d="M273.65 492.2 L280.1 486.25 L286.55 492.2 L280.1 498.15ZM276.26 490.86 L281.55 495.74 L283.94 493.54 L278.65 488.66Z" fill="#3f99c4" fill-rule="evenodd"/>
<path d="M276.9 491.4H283.3" stroke="#4a4646" stroke-width="1.1" fill="none"/>
<path d="M397.2 425.3 L397.2 444.8 L556.7 444.8 L556.7 400" stroke="#9897c6" stroke-width="1.2" fill="none" stroke-linejoin="miter"/>
<path d="M481 446.2V451.7" stroke="#9897c6" stroke-width="1.2" fill="none"/>
<path d="M475.15 460.7 L481.6 454.75 L488.05 460.7 L481.6 466.65ZM477.76 459.36 L483.05 464.24 L485.44 462.04 L480.15 457.16Z" fill="#9897c6" fill-rule="evenodd"/>
<path d="M405.4 428 L405.4 473.4 L468.8 473.4 L468.8 413.6" stroke="#9897c6" stroke-width="1.2" fill="none" stroke-linejoin="miter"/>
<path d="M427.1 478.9H454.9" stroke="#4a4646" stroke-width="1.45" fill="none"/>
<path d="M427.1 491.1H454.9" stroke="#4a4646" stroke-width="1.45" fill="none"/>
<path d="M427.1 503.4H454.9" stroke="#4a4646" stroke-width="1.45" fill="none"/>
<path d="M427.1 514H454.9" stroke="#4a4646" stroke-width="1.45" fill="none"/>
<path d="M440.2 473.4V509.6" stroke="#9897c6" stroke-width="1.2" fill="none"/>
<path d="M434.75 519.6 L441.2 513.65 L447.65 519.6 L441.2 525.55ZM437.36 518.26 L442.65 523.14 L445.04 520.94 L439.75 516.06Z" fill="#9897c6" fill-rule="evenodd"/>
<path d="M491.1 414.9 L491.1 473.4 L549.1 473.4 L549.1 404" stroke="#bd4c4c" stroke-width="1.2" fill="none" stroke-linejoin="miter"/>
<path d="M508.5 478.9H535.7" stroke="#4a4646" stroke-width="1.45" fill="none"/>
<path d="M510.4 491.2H535.7" stroke="#4a4646" stroke-width="1.45" fill="none"/>
<path d="M521.8 473.4V484" stroke="#bd4c4c" stroke-width="1.2" fill="none"/>
<path d="M515.65 491.2 L522.1 485.25 L528.55 491.2 L522.1 497.15ZM518.26 489.86 L523.55 494.74 L525.94 492.54 L520.65 487.66Z" fill="#bd4c4c" fill-rule="evenodd"/>
<path d="M518.8 491.2H525.2" stroke="#4a4646" stroke-width="1.1" fill="none"/>
<path d="M507.87 481.12V496.56 M509.93 480.86V496.08" stroke="#bd4c4c" stroke-width="0.8" fill="none"/>
<path d="M506.75 485.46 L511.05 484.3 L511.05 486.19 L506.75 487.35Z" fill="#bd4c4c"/>
<path d="M506.75 491.01 L511.05 489.85 L511.05 491.74 L506.75 492.9Z" fill="#bd4c4c"/>
<text x="176" y="45.3" font-size="13.2" fill="#173752" stroke="#173752" stroke-width="0.22" text-anchor="start">1320</text>
<text x="176" y="57.3" font-size="13.2" fill="#173752" stroke="#173752" stroke-width="0.22" text-anchor="start">1100</text>
<text x="177.7" y="69.4" font-size="13.2" stroke="#231f20" stroke-width="0.22" text-anchor="start">880</text>
<text x="177.7" y="88.5" font-size="13.2" fill="#173752" stroke="#173752" stroke-width="0.22" text-anchor="start">660</text>
<text x="177.7" y="112.3" font-size="13.2" stroke="#231f20" stroke-width="0.22" text-anchor="start">440</text>
<text x="416" y="45.3" font-size="13.2" fill="#2d2a44" stroke="#2d2a44" stroke-width="0.22" text-anchor="start">1320</text>
<text x="416" y="57.3" font-size="13.2" stroke="#231f20" stroke-width="0.22" text-anchor="start">1100</text>
<text x="417.7" y="69.4" font-size="13.2" stroke="#231f20" stroke-width="0.22" text-anchor="start">880</text>
<text x="417.7" y="88.5" font-size="13.2" fill="#2d2a44" stroke="#2d2a44" stroke-width="0.22" text-anchor="start">660</text>
<text x="417.7" y="112.3" font-size="13.2" stroke="#231f20" stroke-width="0.22" text-anchor="start">440</text>
<text x="245.9" y="57.3" font-size="13.2" fill="#173752" stroke="#173752" stroke-width="0.22" text-anchor="start">1100</text>
<text x="249.3" y="75.4" font-size="13.2" stroke="#231f20" stroke-width="0.22" text-anchor="start">825</text>
<text x="249.3" y="100.2" font-size="13.2" stroke="#231f20" stroke-width="0.22" text-anchor="start">550</text>
<text x="486.1" y="57" font-size="13.2" stroke="#231f20" stroke-width="0.22" text-anchor="start">1108.8</text>
<text x="493" y="75.6" font-size="13.2" stroke="#231f20" stroke-width="0.22" text-anchor="start">831.6</text>
<text x="493.6" y="101" font-size="13.2" stroke="#231f20" stroke-width="0.22" text-anchor="start">554.4</text>
<text x="315.8" y="45.6" font-size="13.2" fill="#173752" stroke="#173752" stroke-width="0.22" text-anchor="start">1320</text>
<text x="317.2" y="64.3" font-size="13.2" stroke="#231f20" stroke-width="0.22" text-anchor="start">990</text>
<text x="316.7" y="88.4" font-size="13.2" fill="#173752" stroke="#173752" stroke-width="0.22" text-anchor="start">660</text>
<text x="317.2" y="125" font-size="13.2" stroke="#231f20" stroke-width="0.22" text-anchor="start">330</text>
<text x="559.3" y="45.3" font-size="13.2" fill="#2d2a44" stroke="#2d2a44" stroke-width="0.22" text-anchor="start">1318.4</text>
<text x="567.3" y="62.2" font-size="13.2" stroke="#231f20" stroke-width="0.22" text-anchor="start">988.8</text>
<text x="566.7" y="88.4" font-size="13.2" fill="#2d2a44" stroke="#2d2a44" stroke-width="0.22" text-anchor="start">659.2</text>
<text x="565.9" y="125" font-size="13.2" stroke="#231f20" stroke-width="0.22" text-anchor="start">329.6</text>
<text x="178" y="149" font-size="13.2" stroke="#231f20" stroke-width="0.22" text-anchor="start">220</text>
<text x="249.7" y="142.6" font-size="13.2" stroke="#231f20" stroke-width="0.22" text-anchor="start">275</text>
<text x="418" y="149" font-size="13.2" stroke="#231f20" stroke-width="0.22" text-anchor="start">220</text>
<text x="494.8" y="140.6" font-size="13.2" stroke="#231f20" stroke-width="0.22" text-anchor="start">277.2</text>
<text x="252.2" y="198" font-size="13.2" stroke="#231f20" stroke-width="0.22" text-anchor="start">110</text>
<text x="215.7" y="239.8" font-size="13.2" stroke="#231f20" stroke-width="0.22" text-anchor="start">55</text>
<text x="296.8" y="239.8" font-size="13.2" stroke="#231f20" stroke-width="0.22" text-anchor="start">55</text>
<text x="486.3" y="198" font-size="13.2" stroke="#231f20" stroke-width="0.22" text-anchor="start">109.6</text>
<text x="456.4" y="239.8" font-size="13.2" stroke="#231f20" stroke-width="0.22" text-anchor="start">57.2</text>
<text x="531.5" y="240.7" font-size="13.2" stroke="#231f20" stroke-width="0.22" text-anchor="start">52.4</text>
<text x="176" y="312.5" font-size="13.2" fill="#173752" stroke="#173752" stroke-width="0.22" text-anchor="start">1320</text>
<text x="176" y="324.6" font-size="13.2" stroke="#231f20" stroke-width="0.22" text-anchor="start">1100</text>
<text x="177.7" y="337" font-size="13.2" stroke="#231f20" stroke-width="0.22" text-anchor="start">880</text>
<text x="177.7" y="356" font-size="13.2" fill="#173752" stroke="#173752" stroke-width="0.22" text-anchor="start">660</text>
<text x="177.7" y="379.7" font-size="13.2" stroke="#231f20" stroke-width="0.22" text-anchor="start">440</text>
<text x="418.1" y="312.5" font-size="13.2" fill="#2d2a44" stroke="#2d2a44" stroke-width="0.22" text-anchor="start">1320</text>
<text x="418.1" y="324.6" font-size="13.2" stroke="#231f20" stroke-width="0.22" text-anchor="start">1100</text>
<text x="419.7" y="337" font-size="13.2" stroke="#231f20" stroke-width="0.22" text-anchor="start">880</text>
<text x="419.7" y="356" font-size="13.2" fill="#2d2a44" stroke="#2d2a44" stroke-width="0.22" text-anchor="start">660</text>
<text x="419.7" y="379.7" font-size="13.2" stroke="#231f20" stroke-width="0.22" text-anchor="start">440</text>
<text x="246.2" y="323.7" font-size="13.2" stroke="#231f20" stroke-width="0.22" text-anchor="start">1056</text>
<text x="253.3" y="344.2" font-size="13.2" stroke="#231f20" stroke-width="0.22" text-anchor="start">792</text>
<text x="253.3" y="368.7" font-size="13.2" stroke="#231f20" stroke-width="0.22" text-anchor="start">528</text>
<text x="488.1" y="324.9" font-size="13.2" stroke="#231f20" stroke-width="0.22" text-anchor="start">1046.4</text>
<text x="495" y="344.6" font-size="13.2" stroke="#231f20" stroke-width="0.22" text-anchor="start">784.8</text>
<text x="495" y="368.9" font-size="13.2" stroke="#231f20" stroke-width="0.22" text-anchor="start">523.2</text>
<text x="316.8" y="312.8" font-size="13.2" fill="#173752" stroke="#173752" stroke-width="0.22" text-anchor="start">1320</text>
<text x="322.9" y="330.9" font-size="13.2" stroke="#231f20" stroke-width="0.22" text-anchor="start">990</text>
<text x="322.4" y="356" font-size="13.2" fill="#173752" stroke="#173752" stroke-width="0.22" text-anchor="start">660</text>
<text x="322.4" y="392.2" font-size="13.2" stroke="#231f20" stroke-width="0.22" text-anchor="start">330</text>
<text x="558.1" y="312.8" font-size="13.2" fill="#2d2a44" stroke="#2d2a44" stroke-width="0.22" text-anchor="start">1318.4</text>
<text x="565.2" y="331" font-size="13.2" stroke="#231f20" stroke-width="0.22" text-anchor="start">988.8</text>
<text x="564.2" y="356" font-size="13.2" fill="#2d2a44" stroke="#2d2a44" stroke-width="0.22" text-anchor="start">659.2</text>
<text x="564.2" y="392.8" font-size="13.2" stroke="#231f20" stroke-width="0.22" text-anchor="start">329.6</text>
<text x="178" y="416.1" font-size="13.2" stroke="#231f20" stroke-width="0.22" text-anchor="start">220</text>
<text x="254.6" y="410.3" font-size="13.2" stroke="#231f20" stroke-width="0.22" text-anchor="start">264</text>
<text x="419.7" y="415.9" font-size="13.2" stroke="#231f20" stroke-width="0.22" text-anchor="start">220</text>
<text x="496.7" y="410.2" font-size="13.2" stroke="#231f20" stroke-width="0.22" text-anchor="start">261.6</text>
<text x="251.5" y="465.5" font-size="13.2" stroke="#231f20" stroke-width="0.22" text-anchor="start">110</text>
<text x="217.6" y="517.9" font-size="13.2" stroke="#231f20" stroke-width="0.22" text-anchor="start">44</text>
<text x="298.7" y="497.9" font-size="13.2" stroke="#231f20" stroke-width="0.22" text-anchor="start">66</text>
<text x="495.8" y="465.4" font-size="13.2" stroke="#231f20" stroke-width="0.22" text-anchor="start">110.4</text>
<text x="461.9" y="523.2" font-size="13.2" stroke="#231f20" stroke-width="0.22" text-anchor="start">41.4</text>
<text x="543.8" y="494.8" font-size="13.2" stroke="#231f20" stroke-width="0.22" text-anchor="start">68</text>
<text x="168.75" y="19.2" font-size="19" textLength="151.9" lengthAdjust="spacingAndGlyphs" stroke="#231f20" stroke-width="0.3" text-anchor="start">Just Intonation Hz</text>
<text x="386.6" y="19.2" font-size="19" textLength="197.2" lengthAdjust="spacingAndGlyphs" stroke="#231f20" stroke-width="0.3" text-anchor="start">Equal Temperament Hz</text>
<text x="168.75" y="286.7" font-size="19" textLength="151.9" lengthAdjust="spacingAndGlyphs" stroke="#231f20" stroke-width="0.3" text-anchor="start">Just Intonation Hz</text>
<text x="396.8" y="286.7" font-size="19" textLength="197.9" lengthAdjust="spacingAndGlyphs" stroke="#231f20" stroke-width="0.3" text-anchor="start">Equal Temperament Hz</text>
<text x="45.6" y="47.4" font-size="20.5" textLength="69.5" lengthAdjust="spacingAndGlyphs" stroke="#231f20" stroke-width="0.3" text-anchor="start">A major</text>
<text x="44.6" y="314.4" font-size="20.5" textLength="69.6" lengthAdjust="spacingAndGlyphs" stroke="#231f20" stroke-width="0.3" text-anchor="start">a minor</text>
</svg>
</body></html>
